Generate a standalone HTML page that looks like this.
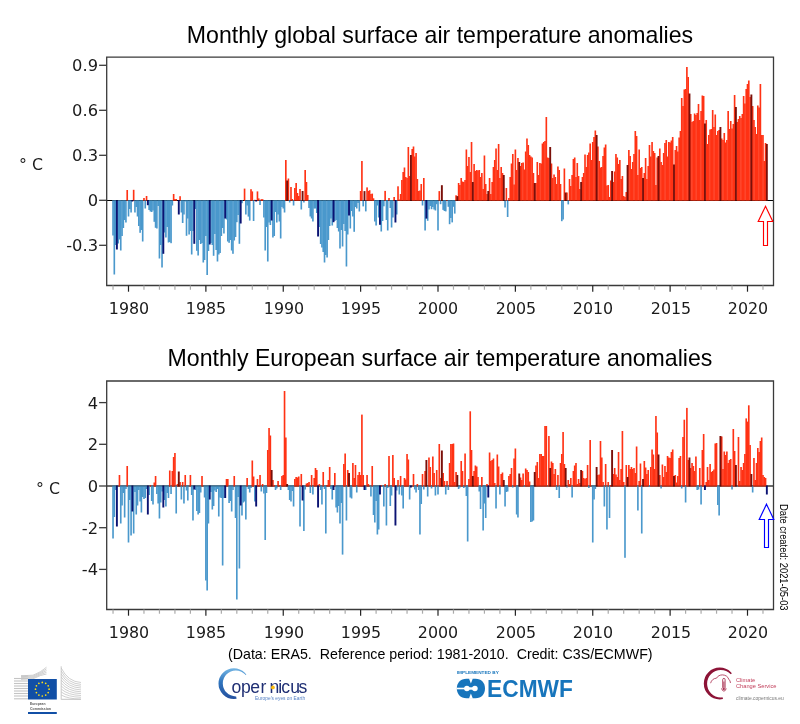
<!DOCTYPE html>
<html><head><meta charset="utf-8"><title>Monthly surface air temperature anomalies</title>
<style>
html,body{margin:0;padding:0;background:#fff;}
body{width:800px;height:724px;position:relative;overflow:hidden;font-family:"Liberation Sans",sans-serif;color:#111;}
svg{position:absolute;left:0;top:0;}
.title{position:absolute;left:0;width:880px;text-align:center;font-size:23.2px;line-height:26px;white-space:nowrap;color:#000;transform:scaleX(0.997);transform-origin:440px 0;}
.xl{position:absolute;width:60px;text-align:center;font-family:"DejaVu Sans","Liberation Sans",sans-serif;font-size:16.3px;line-height:20px;color:#1a1a1a;transform:scaleX(0.975);}
.yl{position:absolute;left:40px;width:58px;text-align:right;font-family:"DejaVu Sans","Liberation Sans",sans-serif;font-size:16.3px;line-height:20px;color:#1a1a1a;transform-origin:100% 0;}
.unit{position:absolute;font-family:"DejaVu Sans","Liberation Sans",sans-serif;font-size:16.3px;line-height:20px;color:#1a1a1a;white-space:pre;transform:scaleX(0.97);transform-origin:0 0;}
.foot{position:absolute;left:228px;top:646px;font-size:14.3px;line-height:16px;white-space:pre;color:#000;transform:scaleX(0.995);transform-origin:0 0;}
.date{position:absolute;left:788.3px;top:504.3px;font-size:10px;line-height:10px;white-space:nowrap;transform-origin:0 0;transform:rotate(90deg) scaleX(0.935);color:#000;}
.tiny{position:absolute;white-space:nowrap;}
</style></head><body>
<div class="title" style="top:22px">Monthly global surface air temperature anomalies</div>
<div class="title" style="top:345px">Monthly European surface air temperature anomalies</div>
<svg width="800" height="724" viewBox="0 0 800 724">
<line x1="106.5" y1="200.5" x2="773.5" y2="200.5" stroke="#000" stroke-width="1.2"/>
<line x1="106.5" y1="486.0" x2="773.5" y2="486.0" stroke="#000" stroke-width="1.2"/>
<g shape-rendering="auto">
<rect x="112.21" y="200.0" width="1.64" height="35.5" fill="#4a98cc"/>
<rect x="113.49" y="200.0" width="1.64" height="74.5" fill="#4a98cc"/>
<rect x="114.78" y="200.0" width="1.64" height="45.0" fill="#4a98cc"/>
<rect x="117.36" y="200.0" width="1.64" height="43.5" fill="#4a98cc"/>
<rect x="118.65" y="200.0" width="1.64" height="39.5" fill="#4a98cc"/>
<rect x="119.94" y="200.0" width="1.64" height="50.5" fill="#4a98cc"/>
<rect x="121.23" y="200.0" width="1.64" height="36.0" fill="#4a98cc"/>
<rect x="122.52" y="200.0" width="1.64" height="28.0" fill="#4a98cc"/>
<rect x="123.81" y="200.0" width="1.64" height="20.0" fill="#4a98cc"/>
<rect x="125.10" y="200.0" width="1.64" height="22.5" fill="#4a98cc"/>
<rect x="126.39" y="190.0" width="1.64" height="11.0" fill="#ff3214"/>
<rect x="127.68" y="200.0" width="1.64" height="16.5" fill="#4a98cc"/>
<rect x="128.97" y="200.0" width="1.64" height="9.0" fill="#4a98cc"/>
<rect x="130.26" y="200.0" width="1.64" height="12.5" fill="#4a98cc"/>
<rect x="132.84" y="189.8" width="1.64" height="11.2" fill="#ff3214"/>
<rect x="134.13" y="200.0" width="1.64" height="12.5" fill="#4a98cc"/>
<rect x="135.42" y="200.0" width="1.64" height="7.0" fill="#4a98cc"/>
<rect x="136.71" y="200.0" width="1.64" height="16.5" fill="#4a98cc"/>
<rect x="138.00" y="200.0" width="1.64" height="26.0" fill="#4a98cc"/>
<rect x="139.29" y="200.0" width="1.64" height="32.8" fill="#4a98cc"/>
<rect x="140.58" y="200.0" width="1.64" height="30.0" fill="#4a98cc"/>
<rect x="141.87" y="200.0" width="1.64" height="41.5" fill="#4a98cc"/>
<rect x="143.16" y="198.0" width="1.64" height="3.0" fill="#ff3214"/>
<rect x="144.44" y="200.0" width="1.64" height="8.5" fill="#4a98cc"/>
<rect x="145.73" y="196.0" width="1.64" height="5.0" fill="#ff3214"/>
<rect x="148.31" y="200.0" width="1.64" height="10.0" fill="#4a98cc"/>
<rect x="149.60" y="200.0" width="1.64" height="11.5" fill="#4a98cc"/>
<rect x="150.89" y="200.0" width="1.64" height="12.0" fill="#4a98cc"/>
<rect x="152.18" y="200.0" width="1.64" height="10.5" fill="#4a98cc"/>
<rect x="153.47" y="200.0" width="1.64" height="21.8" fill="#4a98cc"/>
<rect x="154.76" y="200.0" width="1.64" height="27.8" fill="#4a98cc"/>
<rect x="156.05" y="200.0" width="1.64" height="28.5" fill="#4a98cc"/>
<rect x="157.34" y="200.0" width="1.64" height="6.0" fill="#4a98cc"/>
<rect x="158.63" y="200.0" width="1.64" height="58.5" fill="#4a98cc"/>
<rect x="159.92" y="200.0" width="1.64" height="45.0" fill="#4a98cc"/>
<rect x="161.21" y="200.0" width="1.64" height="67.5" fill="#4a98cc"/>
<rect x="163.79" y="200.0" width="1.64" height="32.5" fill="#4a98cc"/>
<rect x="165.08" y="200.0" width="1.64" height="37.5" fill="#4a98cc"/>
<rect x="166.37" y="200.0" width="1.64" height="27.0" fill="#4a98cc"/>
<rect x="167.66" y="200.0" width="1.64" height="42.5" fill="#4a98cc"/>
<rect x="168.95" y="200.0" width="1.64" height="42.0" fill="#4a98cc"/>
<rect x="170.24" y="200.0" width="1.64" height="43.2" fill="#4a98cc"/>
<rect x="171.53" y="200.0" width="1.64" height="5.5" fill="#4a98cc"/>
<rect x="172.82" y="194.0" width="1.64" height="7.0" fill="#ff3214"/>
<rect x="174.11" y="199.0" width="1.64" height="2.0" fill="#ff3214"/>
<rect x="175.39" y="199.0" width="1.64" height="2.0" fill="#ff3214"/>
<rect x="179.26" y="196.2" width="1.64" height="4.8" fill="#ff3214"/>
<rect x="180.55" y="200.0" width="1.64" height="12.5" fill="#4a98cc"/>
<rect x="181.84" y="200.0" width="1.64" height="23.0" fill="#4a98cc"/>
<rect x="183.13" y="200.0" width="1.64" height="14.5" fill="#4a98cc"/>
<rect x="184.42" y="200.0" width="1.64" height="1.5" fill="#4a98cc"/>
<rect x="185.71" y="200.0" width="1.64" height="35.8" fill="#4a98cc"/>
<rect x="187.00" y="200.0" width="1.64" height="18.5" fill="#4a98cc"/>
<rect x="188.29" y="200.0" width="1.64" height="34.5" fill="#4a98cc"/>
<rect x="189.58" y="200.0" width="1.64" height="31.0" fill="#4a98cc"/>
<rect x="190.87" y="200.0" width="1.64" height="54.5" fill="#4a98cc"/>
<rect x="192.16" y="200.0" width="1.64" height="31.0" fill="#4a98cc"/>
<rect x="194.74" y="200.0" width="1.64" height="9.0" fill="#4a98cc"/>
<rect x="196.03" y="200.0" width="1.64" height="50.8" fill="#4a98cc"/>
<rect x="197.32" y="200.0" width="1.64" height="55.5" fill="#4a98cc"/>
<rect x="198.61" y="200.0" width="1.64" height="40.0" fill="#4a98cc"/>
<rect x="199.90" y="200.0" width="1.64" height="44.0" fill="#4a98cc"/>
<rect x="201.19" y="200.0" width="1.64" height="43.0" fill="#4a98cc"/>
<rect x="202.48" y="200.0" width="1.64" height="62.5" fill="#4a98cc"/>
<rect x="203.77" y="200.0" width="1.64" height="60.0" fill="#4a98cc"/>
<rect x="205.06" y="200.0" width="1.64" height="36.0" fill="#4a98cc"/>
<rect x="206.34" y="200.0" width="1.64" height="75.0" fill="#4a98cc"/>
<rect x="207.63" y="200.0" width="1.64" height="51.0" fill="#4a98cc"/>
<rect x="210.21" y="200.0" width="1.64" height="43.0" fill="#4a98cc"/>
<rect x="211.50" y="200.0" width="1.64" height="45.0" fill="#4a98cc"/>
<rect x="212.79" y="200.0" width="1.64" height="55.8" fill="#4a98cc"/>
<rect x="214.08" y="200.0" width="1.64" height="34.0" fill="#4a98cc"/>
<rect x="215.37" y="200.0" width="1.64" height="50.0" fill="#4a98cc"/>
<rect x="216.66" y="200.0" width="1.64" height="61.5" fill="#4a98cc"/>
<rect x="217.95" y="200.0" width="1.64" height="54.5" fill="#4a98cc"/>
<rect x="219.24" y="200.0" width="1.64" height="53.0" fill="#4a98cc"/>
<rect x="220.53" y="200.0" width="1.64" height="36.0" fill="#4a98cc"/>
<rect x="221.82" y="200.0" width="1.64" height="28.0" fill="#4a98cc"/>
<rect x="223.11" y="200.0" width="1.64" height="33.5" fill="#4a98cc"/>
<rect x="225.69" y="200.0" width="1.64" height="19.5" fill="#4a98cc"/>
<rect x="226.98" y="200.0" width="1.64" height="41.5" fill="#4a98cc"/>
<rect x="228.27" y="200.0" width="1.64" height="42.8" fill="#4a98cc"/>
<rect x="229.56" y="200.0" width="1.64" height="40.0" fill="#4a98cc"/>
<rect x="230.85" y="200.0" width="1.64" height="50.5" fill="#4a98cc"/>
<rect x="232.14" y="200.0" width="1.64" height="53.8" fill="#4a98cc"/>
<rect x="233.43" y="200.0" width="1.64" height="40.5" fill="#4a98cc"/>
<rect x="234.72" y="200.0" width="1.64" height="37.0" fill="#4a98cc"/>
<rect x="236.01" y="200.0" width="1.64" height="22.2" fill="#4a98cc"/>
<rect x="237.29" y="200.0" width="1.64" height="15.0" fill="#4a98cc"/>
<rect x="238.58" y="200.0" width="1.64" height="43.8" fill="#4a98cc"/>
<rect x="241.16" y="200.0" width="1.64" height="3.2" fill="#4a98cc"/>
<rect x="243.74" y="188.6" width="1.64" height="12.4" fill="#ff3214"/>
<rect x="245.03" y="200.0" width="1.64" height="14.5" fill="#4a98cc"/>
<rect x="246.32" y="200.0" width="1.64" height="5.5" fill="#4a98cc"/>
<rect x="247.61" y="200.0" width="1.64" height="16.6" fill="#4a98cc"/>
<rect x="248.90" y="200.0" width="1.64" height="20.6" fill="#4a98cc"/>
<rect x="250.19" y="189.2" width="1.64" height="11.8" fill="#ff3214"/>
<rect x="251.48" y="191.4" width="1.64" height="9.6" fill="#ff3214"/>
<rect x="252.77" y="200.0" width="1.64" height="21.0" fill="#4a98cc"/>
<rect x="254.06" y="199.8" width="1.64" height="1.2" fill="#ff3214"/>
<rect x="256.64" y="191.4" width="1.64" height="9.6" fill="#ff3214"/>
<rect x="257.93" y="198.4" width="1.64" height="2.6" fill="#ff3214"/>
<rect x="259.22" y="200.0" width="1.64" height="5.0" fill="#4a98cc"/>
<rect x="260.51" y="199.2" width="1.64" height="1.8" fill="#ff3214"/>
<rect x="261.80" y="199.2" width="1.64" height="1.8" fill="#ff3214"/>
<rect x="263.09" y="200.0" width="1.64" height="17.5" fill="#4a98cc"/>
<rect x="264.38" y="200.0" width="1.64" height="50.5" fill="#4a98cc"/>
<rect x="265.67" y="200.0" width="1.64" height="27.0" fill="#4a98cc"/>
<rect x="266.96" y="200.0" width="1.64" height="61.5" fill="#4a98cc"/>
<rect x="268.24" y="200.0" width="1.64" height="22.5" fill="#4a98cc"/>
<rect x="269.53" y="200.0" width="1.64" height="25.0" fill="#4a98cc"/>
<rect x="272.11" y="200.0" width="1.64" height="37.5" fill="#4a98cc"/>
<rect x="273.40" y="200.0" width="1.64" height="36.0" fill="#4a98cc"/>
<rect x="274.69" y="200.0" width="1.64" height="12.0" fill="#4a98cc"/>
<rect x="275.98" y="200.0" width="1.64" height="22.5" fill="#4a98cc"/>
<rect x="277.27" y="200.0" width="1.64" height="14.5" fill="#4a98cc"/>
<rect x="278.56" y="200.0" width="1.64" height="21.5" fill="#4a98cc"/>
<rect x="279.85" y="200.0" width="1.64" height="38.5" fill="#4a98cc"/>
<rect x="281.14" y="200.0" width="1.64" height="7.0" fill="#4a98cc"/>
<rect x="282.43" y="200.0" width="1.64" height="8.5" fill="#4a98cc"/>
<rect x="283.72" y="200.0" width="1.64" height="12.5" fill="#4a98cc"/>
<rect x="285.01" y="160.0" width="1.64" height="41.0" fill="#ff3214"/>
<rect x="287.59" y="178.5" width="1.64" height="22.5" fill="#ff3214"/>
<rect x="288.88" y="200.0" width="1.64" height="2.5" fill="#4a98cc"/>
<rect x="290.17" y="187.0" width="1.64" height="14.0" fill="#ff3214"/>
<rect x="291.46" y="199.0" width="1.64" height="2.0" fill="#ff3214"/>
<rect x="292.75" y="200.0" width="1.64" height="5.5" fill="#4a98cc"/>
<rect x="294.04" y="188.0" width="1.64" height="13.0" fill="#ff3214"/>
<rect x="295.33" y="183.0" width="1.64" height="18.0" fill="#ff3214"/>
<rect x="296.62" y="193.0" width="1.64" height="8.0" fill="#ff3214"/>
<rect x="297.91" y="196.0" width="1.64" height="5.0" fill="#ff3214"/>
<rect x="299.19" y="189.0" width="1.64" height="12.0" fill="#ff3214"/>
<rect x="300.48" y="200.0" width="1.64" height="9.5" fill="#4a98cc"/>
<rect x="303.06" y="200.0" width="1.64" height="2.5" fill="#4a98cc"/>
<rect x="304.35" y="170.0" width="1.64" height="31.0" fill="#ff3214"/>
<rect x="305.64" y="182.0" width="1.64" height="19.0" fill="#ff3214"/>
<rect x="306.93" y="195.0" width="1.64" height="6.0" fill="#ff3214"/>
<rect x="308.22" y="200.0" width="1.64" height="8.0" fill="#4a98cc"/>
<rect x="309.51" y="200.0" width="1.64" height="16.5" fill="#4a98cc"/>
<rect x="310.80" y="200.0" width="1.64" height="18.5" fill="#4a98cc"/>
<rect x="312.09" y="200.0" width="1.64" height="21.5" fill="#4a98cc"/>
<rect x="313.38" y="200.0" width="1.64" height="8.5" fill="#4a98cc"/>
<rect x="314.67" y="200.0" width="1.64" height="8.5" fill="#4a98cc"/>
<rect x="315.96" y="200.0" width="1.64" height="13.0" fill="#4a98cc"/>
<rect x="318.54" y="200.0" width="1.64" height="27.0" fill="#4a98cc"/>
<rect x="319.83" y="200.0" width="1.64" height="44.0" fill="#4a98cc"/>
<rect x="321.12" y="200.0" width="1.64" height="47.5" fill="#4a98cc"/>
<rect x="322.41" y="200.0" width="1.64" height="52.0" fill="#4a98cc"/>
<rect x="323.70" y="200.0" width="1.64" height="62.5" fill="#4a98cc"/>
<rect x="324.99" y="200.0" width="1.64" height="55.0" fill="#4a98cc"/>
<rect x="326.28" y="200.0" width="1.64" height="57.5" fill="#4a98cc"/>
<rect x="327.57" y="200.0" width="1.64" height="40.0" fill="#4a98cc"/>
<rect x="328.86" y="200.0" width="1.64" height="26.0" fill="#4a98cc"/>
<rect x="330.14" y="200.0" width="1.64" height="18.5" fill="#4a98cc"/>
<rect x="331.43" y="200.0" width="1.64" height="25.5" fill="#4a98cc"/>
<rect x="334.01" y="200.0" width="1.64" height="21.0" fill="#4a98cc"/>
<rect x="335.30" y="200.0" width="1.64" height="20.0" fill="#4a98cc"/>
<rect x="336.59" y="200.0" width="1.64" height="28.0" fill="#4a98cc"/>
<rect x="337.88" y="200.0" width="1.64" height="31.5" fill="#4a98cc"/>
<rect x="339.17" y="200.0" width="1.64" height="48.5" fill="#4a98cc"/>
<rect x="340.46" y="200.0" width="1.64" height="30.0" fill="#4a98cc"/>
<rect x="341.75" y="200.0" width="1.64" height="46.5" fill="#4a98cc"/>
<rect x="343.04" y="200.0" width="1.64" height="24.0" fill="#4a98cc"/>
<rect x="344.33" y="200.0" width="1.64" height="31.0" fill="#4a98cc"/>
<rect x="345.62" y="200.0" width="1.64" height="66.5" fill="#4a98cc"/>
<rect x="346.91" y="200.0" width="1.64" height="34.5" fill="#4a98cc"/>
<rect x="349.49" y="200.0" width="1.64" height="28.5" fill="#4a98cc"/>
<rect x="350.78" y="200.0" width="1.64" height="11.0" fill="#4a98cc"/>
<rect x="352.07" y="200.0" width="1.64" height="16.5" fill="#4a98cc"/>
<rect x="353.36" y="200.0" width="1.64" height="31.8" fill="#4a98cc"/>
<rect x="354.65" y="200.0" width="1.64" height="7.0" fill="#4a98cc"/>
<rect x="355.94" y="200.0" width="1.64" height="8.5" fill="#4a98cc"/>
<rect x="357.23" y="200.0" width="1.64" height="3.0" fill="#4a98cc"/>
<rect x="358.52" y="200.0" width="1.64" height="11.5" fill="#4a98cc"/>
<rect x="359.81" y="191.0" width="1.64" height="10.0" fill="#ff3214"/>
<rect x="361.09" y="161.0" width="1.64" height="40.0" fill="#ff3214"/>
<rect x="362.38" y="200.0" width="1.64" height="6.4" fill="#4a98cc"/>
<rect x="364.96" y="200.0" width="1.64" height="11.4" fill="#4a98cc"/>
<rect x="366.25" y="187.4" width="1.64" height="13.6" fill="#ff3214"/>
<rect x="367.54" y="191.0" width="1.64" height="10.0" fill="#ff3214"/>
<rect x="368.83" y="190.2" width="1.64" height="10.8" fill="#ff3214"/>
<rect x="370.12" y="194.0" width="1.64" height="7.0" fill="#ff3214"/>
<rect x="371.41" y="193.6" width="1.64" height="7.4" fill="#ff3214"/>
<rect x="372.70" y="198.3" width="1.64" height="2.7" fill="#ff3214"/>
<rect x="373.99" y="200.0" width="1.64" height="21.5" fill="#4a98cc"/>
<rect x="375.28" y="200.0" width="1.64" height="25.5" fill="#4a98cc"/>
<rect x="376.57" y="200.0" width="1.64" height="5.5" fill="#4a98cc"/>
<rect x="377.86" y="200.0" width="1.64" height="17.5" fill="#4a98cc"/>
<rect x="380.44" y="200.0" width="1.64" height="31.5" fill="#4a98cc"/>
<rect x="381.73" y="200.0" width="1.64" height="21.0" fill="#4a98cc"/>
<rect x="383.02" y="200.0" width="1.64" height="6.3" fill="#4a98cc"/>
<rect x="384.31" y="190.9" width="1.64" height="10.1" fill="#ff3214"/>
<rect x="385.60" y="200.0" width="1.64" height="20.0" fill="#4a98cc"/>
<rect x="386.89" y="200.0" width="1.64" height="30.5" fill="#4a98cc"/>
<rect x="388.18" y="198.0" width="1.64" height="3.0" fill="#ff3214"/>
<rect x="389.47" y="200.0" width="1.64" height="8.0" fill="#4a98cc"/>
<rect x="390.76" y="200.0" width="1.64" height="27.5" fill="#4a98cc"/>
<rect x="392.04" y="200.0" width="1.64" height="17.5" fill="#4a98cc"/>
<rect x="393.33" y="197.0" width="1.64" height="4.0" fill="#ff3214"/>
<rect x="395.91" y="200.0" width="1.64" height="14.5" fill="#4a98cc"/>
<rect x="397.20" y="186.3" width="1.64" height="14.7" fill="#ff3214"/>
<rect x="398.49" y="199.5" width="1.64" height="1.5" fill="#ff3214"/>
<rect x="399.78" y="194.0" width="1.64" height="7.0" fill="#ff3214"/>
<rect x="401.07" y="180.0" width="1.64" height="21.0" fill="#ff3214"/>
<rect x="402.36" y="172.0" width="1.64" height="29.0" fill="#ff3214"/>
<rect x="403.65" y="167.5" width="1.64" height="33.5" fill="#ff3214"/>
<rect x="404.94" y="177.0" width="1.64" height="24.0" fill="#ff3214"/>
<rect x="406.23" y="178.0" width="1.64" height="23.0" fill="#ff3214"/>
<rect x="407.52" y="147.0" width="1.64" height="54.0" fill="#ff3214"/>
<rect x="408.81" y="176.0" width="1.64" height="25.0" fill="#ff3214"/>
<rect x="411.39" y="149.0" width="1.64" height="52.0" fill="#ff3214"/>
<rect x="412.68" y="146.5" width="1.64" height="54.5" fill="#ff3214"/>
<rect x="413.97" y="156.5" width="1.64" height="44.5" fill="#ff3214"/>
<rect x="415.26" y="153.0" width="1.64" height="48.0" fill="#ff3214"/>
<rect x="416.55" y="179.0" width="1.64" height="22.0" fill="#ff3214"/>
<rect x="417.84" y="191.0" width="1.64" height="10.0" fill="#ff3214"/>
<rect x="419.13" y="190.5" width="1.64" height="10.5" fill="#ff3214"/>
<rect x="420.42" y="184.0" width="1.64" height="17.0" fill="#ff3214"/>
<rect x="421.71" y="200.0" width="1.64" height="5.5" fill="#4a98cc"/>
<rect x="422.99" y="178.0" width="1.64" height="23.0" fill="#ff3214"/>
<rect x="424.28" y="200.0" width="1.64" height="30.5" fill="#4a98cc"/>
<rect x="426.86" y="200.0" width="1.64" height="20.8" fill="#4a98cc"/>
<rect x="428.15" y="200.0" width="1.64" height="9.5" fill="#4a98cc"/>
<rect x="429.44" y="200.0" width="1.64" height="6.0" fill="#4a98cc"/>
<rect x="430.73" y="200.0" width="1.64" height="9.2" fill="#4a98cc"/>
<rect x="432.02" y="200.0" width="1.64" height="7.0" fill="#4a98cc"/>
<rect x="433.31" y="200.0" width="1.64" height="9.5" fill="#4a98cc"/>
<rect x="434.60" y="200.0" width="1.64" height="10.5" fill="#4a98cc"/>
<rect x="435.89" y="200.0" width="1.64" height="4.2" fill="#4a98cc"/>
<rect x="437.18" y="200.0" width="1.64" height="30.5" fill="#4a98cc"/>
<rect x="438.47" y="191.1" width="1.64" height="9.9" fill="#ff3214"/>
<rect x="439.76" y="200.0" width="1.64" height="4.2" fill="#4a98cc"/>
<rect x="442.34" y="200.0" width="1.64" height="9.9" fill="#4a98cc"/>
<rect x="443.63" y="200.0" width="1.64" height="11.0" fill="#4a98cc"/>
<rect x="444.92" y="200.0" width="1.64" height="11.4" fill="#4a98cc"/>
<rect x="446.21" y="200.0" width="1.64" height="1.0" fill="#ff3214"/>
<rect x="447.50" y="200.0" width="1.64" height="6.8" fill="#4a98cc"/>
<rect x="448.79" y="200.0" width="1.64" height="24.2" fill="#4a98cc"/>
<rect x="450.08" y="200.0" width="1.64" height="18.0" fill="#4a98cc"/>
<rect x="451.37" y="200.0" width="1.64" height="22.4" fill="#4a98cc"/>
<rect x="452.66" y="200.0" width="1.64" height="6.8" fill="#4a98cc"/>
<rect x="453.94" y="200.0" width="1.64" height="13.6" fill="#4a98cc"/>
<rect x="455.23" y="195.3" width="1.64" height="5.7" fill="#ff3214"/>
<rect x="457.81" y="183.0" width="1.64" height="18.0" fill="#ff3214"/>
<rect x="459.10" y="185.0" width="1.64" height="16.0" fill="#ff3214"/>
<rect x="460.39" y="178.0" width="1.64" height="23.0" fill="#ff3214"/>
<rect x="461.68" y="181.5" width="1.64" height="19.5" fill="#ff3214"/>
<rect x="462.97" y="182.0" width="1.64" height="19.0" fill="#ff3214"/>
<rect x="464.26" y="180.0" width="1.64" height="21.0" fill="#ff3214"/>
<rect x="465.55" y="149.5" width="1.64" height="51.5" fill="#ff3214"/>
<rect x="466.84" y="166.0" width="1.64" height="35.0" fill="#ff3214"/>
<rect x="468.13" y="157.0" width="1.64" height="44.0" fill="#ff3214"/>
<rect x="469.42" y="172.0" width="1.64" height="29.0" fill="#ff3214"/>
<rect x="470.71" y="142.0" width="1.64" height="59.0" fill="#ff3214"/>
<rect x="473.29" y="164.0" width="1.64" height="37.0" fill="#ff3214"/>
<rect x="474.58" y="171.0" width="1.64" height="30.0" fill="#ff3214"/>
<rect x="475.87" y="170.0" width="1.64" height="31.0" fill="#ff3214"/>
<rect x="477.16" y="170.5" width="1.64" height="30.5" fill="#ff3214"/>
<rect x="478.45" y="170.0" width="1.64" height="31.0" fill="#ff3214"/>
<rect x="479.74" y="177.0" width="1.64" height="24.0" fill="#ff3214"/>
<rect x="481.03" y="173.0" width="1.64" height="28.0" fill="#ff3214"/>
<rect x="482.32" y="189.0" width="1.64" height="12.0" fill="#ff3214"/>
<rect x="483.61" y="155.5" width="1.64" height="45.5" fill="#ff3214"/>
<rect x="484.89" y="184.0" width="1.64" height="17.0" fill="#ff3214"/>
<rect x="486.18" y="194.0" width="1.64" height="7.0" fill="#ff3214"/>
<rect x="488.76" y="178.0" width="1.64" height="23.0" fill="#ff3214"/>
<rect x="490.05" y="194.0" width="1.64" height="7.0" fill="#ff3214"/>
<rect x="491.34" y="182.0" width="1.64" height="19.0" fill="#ff3214"/>
<rect x="492.63" y="167.0" width="1.64" height="34.0" fill="#ff3214"/>
<rect x="493.92" y="160.0" width="1.64" height="41.0" fill="#ff3214"/>
<rect x="495.21" y="148.5" width="1.64" height="52.5" fill="#ff3214"/>
<rect x="496.50" y="170.0" width="1.64" height="31.0" fill="#ff3214"/>
<rect x="497.79" y="144.0" width="1.64" height="57.0" fill="#ff3214"/>
<rect x="499.08" y="178.0" width="1.64" height="23.0" fill="#ff3214"/>
<rect x="500.37" y="167.0" width="1.64" height="34.0" fill="#ff3214"/>
<rect x="501.66" y="173.0" width="1.64" height="28.0" fill="#ff3214"/>
<rect x="504.24" y="200.0" width="1.64" height="7.5" fill="#4a98cc"/>
<rect x="505.53" y="188.0" width="1.64" height="13.0" fill="#ff3214"/>
<rect x="506.82" y="200.0" width="1.64" height="17.0" fill="#4a98cc"/>
<rect x="508.11" y="198.0" width="1.64" height="3.0" fill="#ff3214"/>
<rect x="509.40" y="177.0" width="1.64" height="24.0" fill="#ff3214"/>
<rect x="510.69" y="163.5" width="1.64" height="37.5" fill="#ff3214"/>
<rect x="511.98" y="154.0" width="1.64" height="47.0" fill="#ff3214"/>
<rect x="513.27" y="184.5" width="1.64" height="16.5" fill="#ff3214"/>
<rect x="514.56" y="149.5" width="1.64" height="51.5" fill="#ff3214"/>
<rect x="515.84" y="170.0" width="1.64" height="31.0" fill="#ff3214"/>
<rect x="517.13" y="158.0" width="1.64" height="43.0" fill="#ff3214"/>
<rect x="519.71" y="166.0" width="1.64" height="35.0" fill="#ff3214"/>
<rect x="521.00" y="163.0" width="1.64" height="38.0" fill="#ff3214"/>
<rect x="522.29" y="162.5" width="1.64" height="38.5" fill="#ff3214"/>
<rect x="523.58" y="169.5" width="1.64" height="31.5" fill="#ff3214"/>
<rect x="524.87" y="151.5" width="1.64" height="49.5" fill="#ff3214"/>
<rect x="526.16" y="138.5" width="1.64" height="62.5" fill="#ff3214"/>
<rect x="527.45" y="145.0" width="1.64" height="56.0" fill="#ff3214"/>
<rect x="528.74" y="155.0" width="1.64" height="46.0" fill="#ff3214"/>
<rect x="530.03" y="156.5" width="1.64" height="44.5" fill="#ff3214"/>
<rect x="531.32" y="157.5" width="1.64" height="43.5" fill="#ff3214"/>
<rect x="532.61" y="173.0" width="1.64" height="28.0" fill="#ff3214"/>
<rect x="535.19" y="183.0" width="1.64" height="18.0" fill="#ff3214"/>
<rect x="536.48" y="162.0" width="1.64" height="39.0" fill="#ff3214"/>
<rect x="537.77" y="175.0" width="1.64" height="26.0" fill="#ff3214"/>
<rect x="539.06" y="163.0" width="1.64" height="38.0" fill="#ff3214"/>
<rect x="540.35" y="163.5" width="1.64" height="37.5" fill="#ff3214"/>
<rect x="541.64" y="143.5" width="1.64" height="57.5" fill="#ff3214"/>
<rect x="542.93" y="142.0" width="1.64" height="59.0" fill="#ff3214"/>
<rect x="544.22" y="141.0" width="1.64" height="60.0" fill="#ff3214"/>
<rect x="545.51" y="117.0" width="1.64" height="84.0" fill="#ff3214"/>
<rect x="546.79" y="157.5" width="1.64" height="43.5" fill="#ff3214"/>
<rect x="548.08" y="158.0" width="1.64" height="43.0" fill="#ff3214"/>
<rect x="550.66" y="163.5" width="1.64" height="37.5" fill="#ff3214"/>
<rect x="551.95" y="178.0" width="1.64" height="23.0" fill="#ff3214"/>
<rect x="553.24" y="174.5" width="1.64" height="26.5" fill="#ff3214"/>
<rect x="554.53" y="177.0" width="1.64" height="24.0" fill="#ff3214"/>
<rect x="555.82" y="184.0" width="1.64" height="17.0" fill="#ff3214"/>
<rect x="557.11" y="166.5" width="1.64" height="34.5" fill="#ff3214"/>
<rect x="558.40" y="170.0" width="1.64" height="31.0" fill="#ff3214"/>
<rect x="559.69" y="184.0" width="1.64" height="17.0" fill="#ff3214"/>
<rect x="560.98" y="200.0" width="1.64" height="21.2" fill="#4a98cc"/>
<rect x="562.27" y="200.0" width="1.64" height="19.5" fill="#4a98cc"/>
<rect x="563.56" y="168.5" width="1.64" height="32.5" fill="#ff3214"/>
<rect x="566.14" y="192.5" width="1.64" height="8.5" fill="#ff3214"/>
<rect x="567.43" y="200.0" width="1.64" height="4.4" fill="#4a98cc"/>
<rect x="568.72" y="179.0" width="1.64" height="22.0" fill="#ff3214"/>
<rect x="570.01" y="186.0" width="1.64" height="15.0" fill="#ff3214"/>
<rect x="571.30" y="175.0" width="1.64" height="26.0" fill="#ff3214"/>
<rect x="572.59" y="159.0" width="1.64" height="42.0" fill="#ff3214"/>
<rect x="573.88" y="157.5" width="1.64" height="43.5" fill="#ff3214"/>
<rect x="575.17" y="177.0" width="1.64" height="24.0" fill="#ff3214"/>
<rect x="576.46" y="163.0" width="1.64" height="38.0" fill="#ff3214"/>
<rect x="577.74" y="176.0" width="1.64" height="25.0" fill="#ff3214"/>
<rect x="579.03" y="189.0" width="1.64" height="12.0" fill="#ff3214"/>
<rect x="581.61" y="177.0" width="1.64" height="24.0" fill="#ff3214"/>
<rect x="582.90" y="173.0" width="1.64" height="28.0" fill="#ff3214"/>
<rect x="584.19" y="154.5" width="1.64" height="46.5" fill="#ff3214"/>
<rect x="585.48" y="167.0" width="1.64" height="34.0" fill="#ff3214"/>
<rect x="586.77" y="155.0" width="1.64" height="46.0" fill="#ff3214"/>
<rect x="588.06" y="152.5" width="1.64" height="48.5" fill="#ff3214"/>
<rect x="589.35" y="143.5" width="1.64" height="57.5" fill="#ff3214"/>
<rect x="590.64" y="160.0" width="1.64" height="41.0" fill="#ff3214"/>
<rect x="591.93" y="142.0" width="1.64" height="59.0" fill="#ff3214"/>
<rect x="593.22" y="137.0" width="1.64" height="64.0" fill="#ff3214"/>
<rect x="594.51" y="130.5" width="1.64" height="70.5" fill="#ff3214"/>
<rect x="597.09" y="146.5" width="1.64" height="54.5" fill="#ff3214"/>
<rect x="598.38" y="161.0" width="1.64" height="40.0" fill="#ff3214"/>
<rect x="599.67" y="167.5" width="1.64" height="33.5" fill="#ff3214"/>
<rect x="600.96" y="167.0" width="1.64" height="34.0" fill="#ff3214"/>
<rect x="602.25" y="156.0" width="1.64" height="45.0" fill="#ff3214"/>
<rect x="603.54" y="147.5" width="1.64" height="53.5" fill="#ff3214"/>
<rect x="604.83" y="144.5" width="1.64" height="56.5" fill="#ff3214"/>
<rect x="606.12" y="185.5" width="1.64" height="15.5" fill="#ff3214"/>
<rect x="607.41" y="185.0" width="1.64" height="16.0" fill="#ff3214"/>
<rect x="608.69" y="197.0" width="1.64" height="4.0" fill="#ff3214"/>
<rect x="609.98" y="180.5" width="1.64" height="20.5" fill="#ff3214"/>
<rect x="612.56" y="182.0" width="1.64" height="19.0" fill="#ff3214"/>
<rect x="613.85" y="171.5" width="1.64" height="29.5" fill="#ff3214"/>
<rect x="615.14" y="154.0" width="1.64" height="47.0" fill="#ff3214"/>
<rect x="616.43" y="157.5" width="1.64" height="43.5" fill="#ff3214"/>
<rect x="617.72" y="164.0" width="1.64" height="37.0" fill="#ff3214"/>
<rect x="619.01" y="160.0" width="1.64" height="41.0" fill="#ff3214"/>
<rect x="620.30" y="179.0" width="1.64" height="22.0" fill="#ff3214"/>
<rect x="621.59" y="176.0" width="1.64" height="25.0" fill="#ff3214"/>
<rect x="622.88" y="196.0" width="1.64" height="5.0" fill="#ff3214"/>
<rect x="624.17" y="197.0" width="1.64" height="4.0" fill="#ff3214"/>
<rect x="625.46" y="192.0" width="1.64" height="9.0" fill="#ff3214"/>
<rect x="628.04" y="150.0" width="1.64" height="51.0" fill="#ff3214"/>
<rect x="629.33" y="156.0" width="1.64" height="45.0" fill="#ff3214"/>
<rect x="630.62" y="169.0" width="1.64" height="32.0" fill="#ff3214"/>
<rect x="631.91" y="162.0" width="1.64" height="39.0" fill="#ff3214"/>
<rect x="633.20" y="154.0" width="1.64" height="47.0" fill="#ff3214"/>
<rect x="634.49" y="131.0" width="1.64" height="70.0" fill="#ff3214"/>
<rect x="635.78" y="136.0" width="1.64" height="65.0" fill="#ff3214"/>
<rect x="637.07" y="175.0" width="1.64" height="26.0" fill="#ff3214"/>
<rect x="638.36" y="149.5" width="1.64" height="51.5" fill="#ff3214"/>
<rect x="639.64" y="168.0" width="1.64" height="33.0" fill="#ff3214"/>
<rect x="640.93" y="167.0" width="1.64" height="34.0" fill="#ff3214"/>
<rect x="643.51" y="173.0" width="1.64" height="28.0" fill="#ff3214"/>
<rect x="644.80" y="158.0" width="1.64" height="43.0" fill="#ff3214"/>
<rect x="646.09" y="179.0" width="1.64" height="22.0" fill="#ff3214"/>
<rect x="647.38" y="166.0" width="1.64" height="35.0" fill="#ff3214"/>
<rect x="648.67" y="145.0" width="1.64" height="56.0" fill="#ff3214"/>
<rect x="649.96" y="156.5" width="1.64" height="44.5" fill="#ff3214"/>
<rect x="651.25" y="142.0" width="1.64" height="59.0" fill="#ff3214"/>
<rect x="652.54" y="151.0" width="1.64" height="50.0" fill="#ff3214"/>
<rect x="653.83" y="153.0" width="1.64" height="48.0" fill="#ff3214"/>
<rect x="655.12" y="185.0" width="1.64" height="16.0" fill="#ff3214"/>
<rect x="656.41" y="157.5" width="1.64" height="43.5" fill="#ff3214"/>
<rect x="658.99" y="148.5" width="1.64" height="52.5" fill="#ff3214"/>
<rect x="660.28" y="162.0" width="1.64" height="39.0" fill="#ff3214"/>
<rect x="661.57" y="165.0" width="1.64" height="36.0" fill="#ff3214"/>
<rect x="662.86" y="153.0" width="1.64" height="48.0" fill="#ff3214"/>
<rect x="664.15" y="143.0" width="1.64" height="58.0" fill="#ff3214"/>
<rect x="665.44" y="140.0" width="1.64" height="61.0" fill="#ff3214"/>
<rect x="666.73" y="156.5" width="1.64" height="44.5" fill="#ff3214"/>
<rect x="668.02" y="142.0" width="1.64" height="59.0" fill="#ff3214"/>
<rect x="669.31" y="142.5" width="1.64" height="58.5" fill="#ff3214"/>
<rect x="670.59" y="140.5" width="1.64" height="60.5" fill="#ff3214"/>
<rect x="671.88" y="137.0" width="1.64" height="64.0" fill="#ff3214"/>
<rect x="674.46" y="150.0" width="1.64" height="51.0" fill="#ff3214"/>
<rect x="675.75" y="146.0" width="1.64" height="55.0" fill="#ff3214"/>
<rect x="677.04" y="151.5" width="1.64" height="49.5" fill="#ff3214"/>
<rect x="678.33" y="137.5" width="1.64" height="63.5" fill="#ff3214"/>
<rect x="679.62" y="131.0" width="1.64" height="70.0" fill="#ff3214"/>
<rect x="680.91" y="98.0" width="1.64" height="103.0" fill="#ff3214"/>
<rect x="682.20" y="106.0" width="1.64" height="95.0" fill="#ff3214"/>
<rect x="683.49" y="89.5" width="1.64" height="111.5" fill="#ff3214"/>
<rect x="684.78" y="89.0" width="1.64" height="112.0" fill="#ff3214"/>
<rect x="686.07" y="67.0" width="1.64" height="134.0" fill="#ff3214"/>
<rect x="687.36" y="77.0" width="1.64" height="124.0" fill="#ff3214"/>
<rect x="689.94" y="114.0" width="1.64" height="87.0" fill="#ff3214"/>
<rect x="691.23" y="122.0" width="1.64" height="79.0" fill="#ff3214"/>
<rect x="692.52" y="121.0" width="1.64" height="80.0" fill="#ff3214"/>
<rect x="693.81" y="113.5" width="1.64" height="87.5" fill="#ff3214"/>
<rect x="695.10" y="115.0" width="1.64" height="86.0" fill="#ff3214"/>
<rect x="696.39" y="113.0" width="1.64" height="88.0" fill="#ff3214"/>
<rect x="697.68" y="104.0" width="1.64" height="97.0" fill="#ff3214"/>
<rect x="698.97" y="120.0" width="1.64" height="81.0" fill="#ff3214"/>
<rect x="700.26" y="111.0" width="1.64" height="90.0" fill="#ff3214"/>
<rect x="701.54" y="95.5" width="1.64" height="105.5" fill="#ff3214"/>
<rect x="702.83" y="96.0" width="1.64" height="105.0" fill="#ff3214"/>
<rect x="705.41" y="120.0" width="1.64" height="81.0" fill="#ff3214"/>
<rect x="706.70" y="144.0" width="1.64" height="57.0" fill="#ff3214"/>
<rect x="707.99" y="135.0" width="1.64" height="66.0" fill="#ff3214"/>
<rect x="709.28" y="129.5" width="1.64" height="71.5" fill="#ff3214"/>
<rect x="710.57" y="129.0" width="1.64" height="72.0" fill="#ff3214"/>
<rect x="711.86" y="110.0" width="1.64" height="91.0" fill="#ff3214"/>
<rect x="713.15" y="127.0" width="1.64" height="74.0" fill="#ff3214"/>
<rect x="714.44" y="114.5" width="1.64" height="86.5" fill="#ff3214"/>
<rect x="715.73" y="135.0" width="1.64" height="66.0" fill="#ff3214"/>
<rect x="717.02" y="131.0" width="1.64" height="70.0" fill="#ff3214"/>
<rect x="718.31" y="130.0" width="1.64" height="71.0" fill="#ff3214"/>
<rect x="720.89" y="138.5" width="1.64" height="62.5" fill="#ff3214"/>
<rect x="722.18" y="140.0" width="1.64" height="61.0" fill="#ff3214"/>
<rect x="723.47" y="133.0" width="1.64" height="68.0" fill="#ff3214"/>
<rect x="724.76" y="142.5" width="1.64" height="58.5" fill="#ff3214"/>
<rect x="726.05" y="140.0" width="1.64" height="61.0" fill="#ff3214"/>
<rect x="727.34" y="111.0" width="1.64" height="90.0" fill="#ff3214"/>
<rect x="728.63" y="129.0" width="1.64" height="72.0" fill="#ff3214"/>
<rect x="729.92" y="121.0" width="1.64" height="80.0" fill="#ff3214"/>
<rect x="731.21" y="128.5" width="1.64" height="72.5" fill="#ff3214"/>
<rect x="732.49" y="124.0" width="1.64" height="77.0" fill="#ff3214"/>
<rect x="733.78" y="95.0" width="1.64" height="106.0" fill="#ff3214"/>
<rect x="736.36" y="122.0" width="1.64" height="79.0" fill="#ff3214"/>
<rect x="737.65" y="119.0" width="1.64" height="82.0" fill="#ff3214"/>
<rect x="738.94" y="116.0" width="1.64" height="85.0" fill="#ff3214"/>
<rect x="740.23" y="118.0" width="1.64" height="83.0" fill="#ff3214"/>
<rect x="741.52" y="114.0" width="1.64" height="87.0" fill="#ff3214"/>
<rect x="742.81" y="96.0" width="1.64" height="105.0" fill="#ff3214"/>
<rect x="744.10" y="103.5" width="1.64" height="97.5" fill="#ff3214"/>
<rect x="745.39" y="89.0" width="1.64" height="112.0" fill="#ff3214"/>
<rect x="746.68" y="84.0" width="1.64" height="117.0" fill="#ff3214"/>
<rect x="747.97" y="80.5" width="1.64" height="120.5" fill="#ff3214"/>
<rect x="749.26" y="97.0" width="1.64" height="104.0" fill="#ff3214"/>
<rect x="751.84" y="106.0" width="1.64" height="95.0" fill="#ff3214"/>
<rect x="753.13" y="120.0" width="1.64" height="81.0" fill="#ff3214"/>
<rect x="754.42" y="127.0" width="1.64" height="74.0" fill="#ff3214"/>
<rect x="755.71" y="134.0" width="1.64" height="67.0" fill="#ff3214"/>
<rect x="757.00" y="105.5" width="1.64" height="95.5" fill="#ff3214"/>
<rect x="758.29" y="107.5" width="1.64" height="93.5" fill="#ff3214"/>
<rect x="759.58" y="84.0" width="1.64" height="117.0" fill="#ff3214"/>
<rect x="760.87" y="135.0" width="1.64" height="66.0" fill="#ff3214"/>
<rect x="762.16" y="135.0" width="1.64" height="66.0" fill="#ff3214"/>
<rect x="763.44" y="161.0" width="1.64" height="40.0" fill="#ff3214"/>
<rect x="764.73" y="143.0" width="1.64" height="58.0" fill="#ff3214"/>
<rect x="115.94" y="200.0" width="1.90" height="49.5" fill="#0b1373"/>
<rect x="131.42" y="200.0" width="1.90" height="1.5" fill="#0b1373"/>
<rect x="146.89" y="200.0" width="1.90" height="5.2" fill="#0b1373"/>
<rect x="162.37" y="200.0" width="1.90" height="53.8" fill="#0b1373"/>
<rect x="177.84" y="200.0" width="1.90" height="14.5" fill="#0b1373"/>
<rect x="193.32" y="200.0" width="1.90" height="43.8" fill="#0b1373"/>
<rect x="208.79" y="200.0" width="1.90" height="44.5" fill="#0b1373"/>
<rect x="224.27" y="200.0" width="1.90" height="18.5" fill="#0b1373"/>
<rect x="239.74" y="200.0" width="1.90" height="23.5" fill="#0b1373"/>
<rect x="255.22" y="200.0" width="1.90" height="1.5" fill="#0b1373"/>
<rect x="270.69" y="200.0" width="1.90" height="20.5" fill="#0b1373"/>
<rect x="286.17" y="180.5" width="1.90" height="20.5" fill="#7a100a"/>
<rect x="301.64" y="191.0" width="1.90" height="10.0" fill="#7a100a"/>
<rect x="317.12" y="200.0" width="1.90" height="36.5" fill="#0b1373"/>
<rect x="332.59" y="200.0" width="1.90" height="22.2" fill="#0b1373"/>
<rect x="348.07" y="200.0" width="1.90" height="15.5" fill="#0b1373"/>
<rect x="363.54" y="191.1" width="1.90" height="9.9" fill="#7a100a"/>
<rect x="379.02" y="200.0" width="1.90" height="24.8" fill="#0b1373"/>
<rect x="394.49" y="200.0" width="1.90" height="22.5" fill="#0b1373"/>
<rect x="409.97" y="155.0" width="1.90" height="46.0" fill="#7a100a"/>
<rect x="425.44" y="200.0" width="1.90" height="18.6" fill="#0b1373"/>
<rect x="440.92" y="185.2" width="1.90" height="15.8" fill="#7a100a"/>
<rect x="456.39" y="196.1" width="1.90" height="4.9" fill="#7a100a"/>
<rect x="471.87" y="182.0" width="1.90" height="19.0" fill="#7a100a"/>
<rect x="487.34" y="191.0" width="1.90" height="10.0" fill="#7a100a"/>
<rect x="502.82" y="175.0" width="1.90" height="26.0" fill="#7a100a"/>
<rect x="518.29" y="162.0" width="1.90" height="39.0" fill="#7a100a"/>
<rect x="533.77" y="183.0" width="1.90" height="18.0" fill="#7a100a"/>
<rect x="549.24" y="147.0" width="1.90" height="54.0" fill="#7a100a"/>
<rect x="564.72" y="192.5" width="1.90" height="8.5" fill="#7a100a"/>
<rect x="580.19" y="182.0" width="1.90" height="19.0" fill="#7a100a"/>
<rect x="595.67" y="135.0" width="1.90" height="66.0" fill="#7a100a"/>
<rect x="611.14" y="171.0" width="1.90" height="30.0" fill="#7a100a"/>
<rect x="626.62" y="165.0" width="1.90" height="36.0" fill="#7a100a"/>
<rect x="642.09" y="178.0" width="1.90" height="23.0" fill="#7a100a"/>
<rect x="657.57" y="156.0" width="1.90" height="45.0" fill="#7a100a"/>
<rect x="673.04" y="164.5" width="1.90" height="36.5" fill="#7a100a"/>
<rect x="688.52" y="93.5" width="1.90" height="107.5" fill="#7a100a"/>
<rect x="703.99" y="123.5" width="1.90" height="77.5" fill="#7a100a"/>
<rect x="719.47" y="127.0" width="1.90" height="74.0" fill="#7a100a"/>
<rect x="734.94" y="107.0" width="1.90" height="94.0" fill="#7a100a"/>
<rect x="750.42" y="94.5" width="1.90" height="106.5" fill="#7a100a"/>
<rect x="765.89" y="144.0" width="1.90" height="57.0" fill="#7a100a"/>
</g>
<g>
<rect x="112.21" y="485.5" width="1.64" height="53.0" fill="#4a98cc"/>
<rect x="113.49" y="485.5" width="1.64" height="31.5" fill="#4a98cc"/>
<rect x="114.78" y="485.5" width="1.64" height="4.5" fill="#4a98cc"/>
<rect x="118.65" y="475.0" width="1.64" height="11.5" fill="#ff3214"/>
<rect x="119.94" y="485.5" width="1.64" height="38.0" fill="#4a98cc"/>
<rect x="121.23" y="485.5" width="1.64" height="20.0" fill="#4a98cc"/>
<rect x="122.52" y="485.5" width="1.64" height="7.5" fill="#4a98cc"/>
<rect x="123.81" y="485.5" width="1.64" height="32.0" fill="#4a98cc"/>
<rect x="125.10" y="485.5" width="1.64" height="3.5" fill="#4a98cc"/>
<rect x="126.39" y="466.0" width="1.64" height="20.5" fill="#ff3214"/>
<rect x="127.68" y="485.5" width="1.64" height="57.0" fill="#4a98cc"/>
<rect x="128.97" y="485.5" width="1.64" height="14.5" fill="#4a98cc"/>
<rect x="130.26" y="485.5" width="1.64" height="50.0" fill="#4a98cc"/>
<rect x="132.84" y="485.5" width="1.64" height="48.0" fill="#4a98cc"/>
<rect x="134.13" y="485.5" width="1.64" height="6.5" fill="#4a98cc"/>
<rect x="135.42" y="485.5" width="1.64" height="29.0" fill="#4a98cc"/>
<rect x="136.71" y="485.5" width="1.64" height="20.0" fill="#4a98cc"/>
<rect x="138.00" y="485.5" width="1.64" height="4.5" fill="#4a98cc"/>
<rect x="139.29" y="485.5" width="1.64" height="16.0" fill="#4a98cc"/>
<rect x="140.58" y="485.5" width="1.64" height="27.0" fill="#4a98cc"/>
<rect x="141.87" y="485.5" width="1.64" height="11.5" fill="#4a98cc"/>
<rect x="143.16" y="485.5" width="1.64" height="13.5" fill="#4a98cc"/>
<rect x="144.44" y="485.5" width="1.64" height="12.5" fill="#4a98cc"/>
<rect x="145.73" y="485.5" width="1.64" height="3.5" fill="#4a98cc"/>
<rect x="148.31" y="485.5" width="1.64" height="9.5" fill="#4a98cc"/>
<rect x="149.60" y="485.0" width="1.64" height="1.5" fill="#ff3214"/>
<rect x="150.89" y="485.5" width="1.64" height="15.5" fill="#4a98cc"/>
<rect x="152.18" y="485.5" width="1.64" height="19.0" fill="#4a98cc"/>
<rect x="153.47" y="482.5" width="1.64" height="4.0" fill="#ff3214"/>
<rect x="154.76" y="476.0" width="1.64" height="10.5" fill="#ff3214"/>
<rect x="156.05" y="485.5" width="1.64" height="8.5" fill="#4a98cc"/>
<rect x="157.34" y="485.5" width="1.64" height="18.0" fill="#4a98cc"/>
<rect x="158.63" y="485.5" width="1.64" height="33.0" fill="#4a98cc"/>
<rect x="159.92" y="485.5" width="1.64" height="17.0" fill="#4a98cc"/>
<rect x="161.21" y="485.5" width="1.64" height="6.0" fill="#4a98cc"/>
<rect x="163.79" y="485.5" width="1.64" height="14.5" fill="#4a98cc"/>
<rect x="165.08" y="485.5" width="1.64" height="21.0" fill="#4a98cc"/>
<rect x="166.37" y="485.5" width="1.64" height="7.5" fill="#4a98cc"/>
<rect x="167.66" y="485.5" width="1.64" height="12.5" fill="#4a98cc"/>
<rect x="168.95" y="470.5" width="1.64" height="16.0" fill="#ff3214"/>
<rect x="170.24" y="485.5" width="1.64" height="8.5" fill="#4a98cc"/>
<rect x="171.53" y="471.0" width="1.64" height="15.5" fill="#ff3214"/>
<rect x="172.82" y="457.0" width="1.64" height="29.5" fill="#ff3214"/>
<rect x="174.11" y="453.0" width="1.64" height="33.5" fill="#ff3214"/>
<rect x="175.39" y="485.5" width="1.64" height="28.0" fill="#4a98cc"/>
<rect x="176.68" y="484.0" width="1.64" height="2.5" fill="#ff3214"/>
<rect x="179.26" y="482.0" width="1.64" height="4.5" fill="#ff3214"/>
<rect x="180.55" y="485.5" width="1.64" height="14.0" fill="#4a98cc"/>
<rect x="181.84" y="482.0" width="1.64" height="4.5" fill="#ff3214"/>
<rect x="183.13" y="485.5" width="1.64" height="18.0" fill="#4a98cc"/>
<rect x="184.42" y="475.0" width="1.64" height="11.5" fill="#ff3214"/>
<rect x="185.71" y="485.5" width="1.64" height="5.0" fill="#4a98cc"/>
<rect x="187.00" y="485.5" width="1.64" height="15.0" fill="#4a98cc"/>
<rect x="189.58" y="475.0" width="1.64" height="11.5" fill="#ff3214"/>
<rect x="190.87" y="485.5" width="1.64" height="9.5" fill="#4a98cc"/>
<rect x="192.16" y="485.5" width="1.64" height="35.0" fill="#4a98cc"/>
<rect x="194.74" y="485.5" width="1.64" height="4.5" fill="#4a98cc"/>
<rect x="196.03" y="485.5" width="1.64" height="25.5" fill="#4a98cc"/>
<rect x="197.32" y="485.5" width="1.64" height="29.0" fill="#4a98cc"/>
<rect x="198.61" y="485.5" width="1.64" height="27.5" fill="#4a98cc"/>
<rect x="199.90" y="485.5" width="1.64" height="7.0" fill="#4a98cc"/>
<rect x="201.19" y="476.0" width="1.64" height="10.5" fill="#ff3214"/>
<rect x="203.77" y="485.5" width="1.64" height="12.0" fill="#4a98cc"/>
<rect x="205.06" y="485.5" width="1.64" height="95.0" fill="#4a98cc"/>
<rect x="206.34" y="485.5" width="1.64" height="105.0" fill="#4a98cc"/>
<rect x="207.63" y="485.5" width="1.64" height="38.0" fill="#4a98cc"/>
<rect x="210.21" y="485.5" width="1.64" height="6.5" fill="#4a98cc"/>
<rect x="211.50" y="485.5" width="1.64" height="24.0" fill="#4a98cc"/>
<rect x="212.79" y="485.5" width="1.64" height="20.5" fill="#4a98cc"/>
<rect x="214.08" y="485.5" width="1.64" height="5.0" fill="#4a98cc"/>
<rect x="215.37" y="485.5" width="1.64" height="6.5" fill="#4a98cc"/>
<rect x="216.66" y="485.5" width="1.64" height="3.5" fill="#4a98cc"/>
<rect x="217.95" y="485.5" width="1.64" height="31.0" fill="#4a98cc"/>
<rect x="219.24" y="485.5" width="1.64" height="12.0" fill="#4a98cc"/>
<rect x="220.53" y="485.5" width="1.64" height="12.5" fill="#4a98cc"/>
<rect x="221.82" y="485.5" width="1.64" height="80.0" fill="#4a98cc"/>
<rect x="223.11" y="485.5" width="1.64" height="12.5" fill="#4a98cc"/>
<rect x="225.69" y="479.0" width="1.64" height="7.5" fill="#ff3214"/>
<rect x="226.98" y="479.0" width="1.64" height="7.5" fill="#ff3214"/>
<rect x="228.27" y="485.5" width="1.64" height="17.5" fill="#4a98cc"/>
<rect x="229.56" y="485.5" width="1.64" height="15.5" fill="#4a98cc"/>
<rect x="230.85" y="485.5" width="1.64" height="26.0" fill="#4a98cc"/>
<rect x="232.14" y="485.5" width="1.64" height="4.5" fill="#4a98cc"/>
<rect x="233.43" y="476.0" width="1.64" height="10.5" fill="#ff3214"/>
<rect x="234.72" y="485.5" width="1.64" height="32.5" fill="#4a98cc"/>
<rect x="236.01" y="485.5" width="1.64" height="114.0" fill="#4a98cc"/>
<rect x="237.29" y="485.5" width="1.64" height="11.5" fill="#4a98cc"/>
<rect x="238.58" y="485.5" width="1.64" height="83.0" fill="#4a98cc"/>
<rect x="241.16" y="485.5" width="1.64" height="30.0" fill="#4a98cc"/>
<rect x="242.45" y="485.5" width="1.64" height="17.0" fill="#4a98cc"/>
<rect x="243.74" y="485.5" width="1.64" height="16.0" fill="#4a98cc"/>
<rect x="245.03" y="485.5" width="1.64" height="34.0" fill="#4a98cc"/>
<rect x="246.32" y="478.0" width="1.64" height="8.5" fill="#ff3214"/>
<rect x="247.61" y="485.5" width="1.64" height="3.5" fill="#4a98cc"/>
<rect x="248.90" y="485.5" width="1.64" height="7.0" fill="#4a98cc"/>
<rect x="250.19" y="485.5" width="1.64" height="2.5" fill="#4a98cc"/>
<rect x="251.48" y="460.5" width="1.64" height="26.0" fill="#ff3214"/>
<rect x="252.77" y="476.5" width="1.64" height="10.0" fill="#ff3214"/>
<rect x="254.06" y="485.5" width="1.64" height="16.0" fill="#4a98cc"/>
<rect x="256.64" y="479.0" width="1.64" height="7.5" fill="#ff3214"/>
<rect x="257.93" y="485.0" width="1.64" height="1.5" fill="#ff3214"/>
<rect x="259.22" y="475.0" width="1.64" height="11.5" fill="#ff3214"/>
<rect x="260.51" y="485.5" width="1.64" height="6.0" fill="#4a98cc"/>
<rect x="261.80" y="484.0" width="1.64" height="2.5" fill="#ff3214"/>
<rect x="263.09" y="485.5" width="1.64" height="8.0" fill="#4a98cc"/>
<rect x="264.38" y="485.5" width="1.64" height="54.5" fill="#4a98cc"/>
<rect x="265.67" y="485.5" width="1.64" height="7.5" fill="#4a98cc"/>
<rect x="266.96" y="450.0" width="1.64" height="36.5" fill="#ff3214"/>
<rect x="268.24" y="428.0" width="1.64" height="58.5" fill="#ff3214"/>
<rect x="269.53" y="435.5" width="1.64" height="51.0" fill="#ff3214"/>
<rect x="272.11" y="480.0" width="1.64" height="6.5" fill="#ff3214"/>
<rect x="273.40" y="485.0" width="1.64" height="1.5" fill="#ff3214"/>
<rect x="274.69" y="485.5" width="1.64" height="4.5" fill="#4a98cc"/>
<rect x="275.98" y="485.5" width="1.64" height="3.0" fill="#4a98cc"/>
<rect x="277.27" y="481.0" width="1.64" height="5.5" fill="#ff3214"/>
<rect x="278.56" y="485.0" width="1.64" height="1.5" fill="#ff3214"/>
<rect x="279.85" y="485.5" width="1.64" height="4.5" fill="#4a98cc"/>
<rect x="281.14" y="476.0" width="1.64" height="10.5" fill="#ff3214"/>
<rect x="282.43" y="475.0" width="1.64" height="11.5" fill="#ff3214"/>
<rect x="283.72" y="391.0" width="1.64" height="95.5" fill="#ff3214"/>
<rect x="285.01" y="437.5" width="1.64" height="49.0" fill="#ff3214"/>
<rect x="287.59" y="485.5" width="1.64" height="4.5" fill="#4a98cc"/>
<rect x="288.88" y="485.5" width="1.64" height="14.5" fill="#4a98cc"/>
<rect x="290.17" y="485.5" width="1.64" height="16.0" fill="#4a98cc"/>
<rect x="291.46" y="485.5" width="1.64" height="5.5" fill="#4a98cc"/>
<rect x="292.75" y="485.5" width="1.64" height="21.0" fill="#4a98cc"/>
<rect x="294.04" y="479.0" width="1.64" height="7.5" fill="#ff3214"/>
<rect x="295.33" y="477.0" width="1.64" height="9.5" fill="#ff3214"/>
<rect x="296.62" y="477.5" width="1.64" height="9.0" fill="#ff3214"/>
<rect x="297.91" y="476.5" width="1.64" height="10.0" fill="#ff3214"/>
<rect x="299.19" y="485.5" width="1.64" height="41.0" fill="#4a98cc"/>
<rect x="300.48" y="474.0" width="1.64" height="12.5" fill="#ff3214"/>
<rect x="303.06" y="485.5" width="1.64" height="45.5" fill="#4a98cc"/>
<rect x="304.35" y="485.5" width="1.64" height="4.0" fill="#4a98cc"/>
<rect x="305.64" y="483.5" width="1.64" height="3.0" fill="#ff3214"/>
<rect x="306.93" y="483.0" width="1.64" height="3.5" fill="#ff3214"/>
<rect x="308.22" y="482.0" width="1.64" height="4.5" fill="#ff3214"/>
<rect x="309.51" y="485.5" width="1.64" height="7.5" fill="#4a98cc"/>
<rect x="310.80" y="475.0" width="1.64" height="11.5" fill="#ff3214"/>
<rect x="312.09" y="485.5" width="1.64" height="9.0" fill="#4a98cc"/>
<rect x="313.38" y="478.0" width="1.64" height="8.5" fill="#ff3214"/>
<rect x="314.67" y="468.0" width="1.64" height="18.5" fill="#ff3214"/>
<rect x="315.96" y="470.0" width="1.64" height="16.5" fill="#ff3214"/>
<rect x="318.54" y="484.0" width="1.64" height="2.5" fill="#ff3214"/>
<rect x="319.83" y="485.5" width="1.64" height="4.5" fill="#4a98cc"/>
<rect x="321.12" y="485.5" width="1.64" height="19.0" fill="#4a98cc"/>
<rect x="322.41" y="472.0" width="1.64" height="14.5" fill="#ff3214"/>
<rect x="323.70" y="485.5" width="1.64" height="3.5" fill="#4a98cc"/>
<rect x="324.99" y="485.5" width="1.64" height="48.0" fill="#4a98cc"/>
<rect x="326.28" y="485.0" width="1.64" height="1.5" fill="#ff3214"/>
<rect x="327.57" y="480.0" width="1.64" height="6.5" fill="#ff3214"/>
<rect x="328.86" y="467.0" width="1.64" height="19.5" fill="#ff3214"/>
<rect x="330.14" y="485.5" width="1.64" height="3.5" fill="#4a98cc"/>
<rect x="331.43" y="485.5" width="1.64" height="14.0" fill="#4a98cc"/>
<rect x="334.01" y="473.0" width="1.64" height="13.5" fill="#ff3214"/>
<rect x="335.30" y="485.5" width="1.64" height="22.0" fill="#4a98cc"/>
<rect x="336.59" y="485.5" width="1.64" height="27.0" fill="#4a98cc"/>
<rect x="337.88" y="485.5" width="1.64" height="20.5" fill="#4a98cc"/>
<rect x="339.17" y="485.5" width="1.64" height="38.0" fill="#4a98cc"/>
<rect x="340.46" y="485.5" width="1.64" height="17.5" fill="#4a98cc"/>
<rect x="341.75" y="485.5" width="1.64" height="69.1" fill="#4a98cc"/>
<rect x="343.04" y="464.0" width="1.64" height="22.5" fill="#ff3214"/>
<rect x="344.33" y="453.5" width="1.64" height="33.0" fill="#ff3214"/>
<rect x="345.62" y="485.5" width="1.64" height="35.0" fill="#4a98cc"/>
<rect x="346.91" y="470.0" width="1.64" height="16.5" fill="#ff3214"/>
<rect x="349.49" y="485.5" width="1.64" height="12.0" fill="#4a98cc"/>
<rect x="350.78" y="485.5" width="1.64" height="13.0" fill="#4a98cc"/>
<rect x="352.07" y="463.0" width="1.64" height="23.5" fill="#ff3214"/>
<rect x="353.36" y="478.0" width="1.64" height="8.5" fill="#ff3214"/>
<rect x="354.65" y="465.0" width="1.64" height="21.5" fill="#ff3214"/>
<rect x="355.94" y="485.5" width="1.64" height="7.0" fill="#4a98cc"/>
<rect x="357.23" y="475.0" width="1.64" height="11.5" fill="#ff3214"/>
<rect x="358.52" y="472.0" width="1.64" height="14.5" fill="#ff3214"/>
<rect x="359.81" y="475.0" width="1.64" height="11.5" fill="#ff3214"/>
<rect x="361.09" y="414.6" width="1.64" height="71.9" fill="#ff3214"/>
<rect x="362.38" y="475.0" width="1.64" height="11.5" fill="#ff3214"/>
<rect x="364.96" y="485.5" width="1.64" height="4.5" fill="#4a98cc"/>
<rect x="366.25" y="475.0" width="1.64" height="11.5" fill="#ff3214"/>
<rect x="367.54" y="484.0" width="1.64" height="2.5" fill="#ff3214"/>
<rect x="370.12" y="485.5" width="1.64" height="11.0" fill="#4a98cc"/>
<rect x="371.41" y="466.0" width="1.64" height="20.5" fill="#ff3214"/>
<rect x="372.70" y="485.5" width="1.64" height="29.5" fill="#4a98cc"/>
<rect x="373.99" y="485.5" width="1.64" height="37.0" fill="#4a98cc"/>
<rect x="375.28" y="485.5" width="1.64" height="15.5" fill="#4a98cc"/>
<rect x="376.57" y="485.5" width="1.64" height="49.0" fill="#4a98cc"/>
<rect x="377.86" y="485.5" width="1.64" height="44.0" fill="#4a98cc"/>
<rect x="380.44" y="485.0" width="1.64" height="1.5" fill="#ff3214"/>
<rect x="381.73" y="485.5" width="1.64" height="1.5" fill="#4a98cc"/>
<rect x="383.02" y="485.5" width="1.64" height="21.0" fill="#4a98cc"/>
<rect x="384.31" y="484.0" width="1.64" height="2.5" fill="#ff3214"/>
<rect x="385.60" y="485.5" width="1.64" height="40.0" fill="#4a98cc"/>
<rect x="386.89" y="485.5" width="1.64" height="2.5" fill="#4a98cc"/>
<rect x="388.18" y="456.0" width="1.64" height="30.5" fill="#ff3214"/>
<rect x="389.47" y="485.5" width="1.64" height="20.5" fill="#4a98cc"/>
<rect x="390.76" y="485.5" width="1.64" height="10.0" fill="#4a98cc"/>
<rect x="392.04" y="455.0" width="1.64" height="31.5" fill="#ff3214"/>
<rect x="393.33" y="478.0" width="1.64" height="8.5" fill="#ff3214"/>
<rect x="395.91" y="485.5" width="1.64" height="5.0" fill="#4a98cc"/>
<rect x="397.20" y="480.0" width="1.64" height="6.5" fill="#ff3214"/>
<rect x="398.49" y="485.5" width="1.64" height="9.0" fill="#4a98cc"/>
<rect x="399.78" y="476.0" width="1.64" height="10.5" fill="#ff3214"/>
<rect x="401.07" y="485.5" width="1.64" height="10.0" fill="#4a98cc"/>
<rect x="402.36" y="485.5" width="1.64" height="23.0" fill="#4a98cc"/>
<rect x="403.65" y="478.0" width="1.64" height="8.5" fill="#ff3214"/>
<rect x="404.94" y="479.5" width="1.64" height="7.0" fill="#ff3214"/>
<rect x="406.23" y="454.0" width="1.64" height="32.5" fill="#ff3214"/>
<rect x="407.52" y="459.5" width="1.64" height="27.0" fill="#ff3214"/>
<rect x="408.81" y="485.5" width="1.64" height="14.0" fill="#4a98cc"/>
<rect x="412.68" y="474.0" width="1.64" height="12.5" fill="#ff3214"/>
<rect x="413.97" y="485.5" width="1.64" height="4.0" fill="#4a98cc"/>
<rect x="415.26" y="485.5" width="1.64" height="7.0" fill="#4a98cc"/>
<rect x="416.55" y="484.0" width="1.64" height="2.5" fill="#ff3214"/>
<rect x="417.84" y="485.5" width="1.64" height="4.5" fill="#4a98cc"/>
<rect x="419.13" y="485.5" width="1.64" height="49.0" fill="#4a98cc"/>
<rect x="420.42" y="485.5" width="1.64" height="18.5" fill="#4a98cc"/>
<rect x="421.71" y="474.0" width="1.64" height="12.5" fill="#ff3214"/>
<rect x="422.99" y="485.5" width="1.64" height="4.0" fill="#4a98cc"/>
<rect x="424.28" y="471.0" width="1.64" height="15.5" fill="#ff3214"/>
<rect x="426.86" y="485.5" width="1.64" height="11.0" fill="#4a98cc"/>
<rect x="428.15" y="457.5" width="1.64" height="29.0" fill="#ff3214"/>
<rect x="429.44" y="467.0" width="1.64" height="19.5" fill="#ff3214"/>
<rect x="430.73" y="485.5" width="1.64" height="3.0" fill="#4a98cc"/>
<rect x="432.02" y="456.5" width="1.64" height="30.0" fill="#ff3214"/>
<rect x="433.31" y="473.0" width="1.64" height="13.5" fill="#ff3214"/>
<rect x="434.60" y="485.5" width="1.64" height="10.0" fill="#4a98cc"/>
<rect x="435.89" y="470.0" width="1.64" height="16.5" fill="#ff3214"/>
<rect x="437.18" y="485.5" width="1.64" height="9.0" fill="#4a98cc"/>
<rect x="438.47" y="444.0" width="1.64" height="42.5" fill="#ff3214"/>
<rect x="439.76" y="478.0" width="1.64" height="8.5" fill="#ff3214"/>
<rect x="442.34" y="473.0" width="1.64" height="13.5" fill="#ff3214"/>
<rect x="443.63" y="481.0" width="1.64" height="5.5" fill="#ff3214"/>
<rect x="444.92" y="485.5" width="1.64" height="9.0" fill="#4a98cc"/>
<rect x="446.21" y="481.0" width="1.64" height="5.5" fill="#ff3214"/>
<rect x="447.50" y="485.5" width="1.64" height="4.5" fill="#4a98cc"/>
<rect x="448.79" y="463.0" width="1.64" height="23.5" fill="#ff3214"/>
<rect x="450.08" y="444.0" width="1.64" height="42.5" fill="#ff3214"/>
<rect x="451.37" y="444.0" width="1.64" height="42.5" fill="#ff3214"/>
<rect x="452.66" y="443.5" width="1.64" height="43.0" fill="#ff3214"/>
<rect x="453.94" y="482.0" width="1.64" height="4.5" fill="#ff3214"/>
<rect x="455.23" y="472.0" width="1.64" height="14.5" fill="#ff3214"/>
<rect x="457.81" y="485.5" width="1.64" height="3.5" fill="#4a98cc"/>
<rect x="459.10" y="485.5" width="1.64" height="2.0" fill="#4a98cc"/>
<rect x="460.39" y="461.0" width="1.64" height="25.5" fill="#ff3214"/>
<rect x="461.68" y="471.0" width="1.64" height="15.5" fill="#ff3214"/>
<rect x="462.97" y="485.5" width="1.64" height="2.5" fill="#4a98cc"/>
<rect x="464.26" y="453.5" width="1.64" height="33.0" fill="#ff3214"/>
<rect x="465.55" y="485.5" width="1.64" height="10.5" fill="#4a98cc"/>
<rect x="466.84" y="485.5" width="1.64" height="56.0" fill="#4a98cc"/>
<rect x="468.13" y="479.0" width="1.64" height="7.5" fill="#ff3214"/>
<rect x="469.42" y="411.3" width="1.64" height="75.2" fill="#ff3214"/>
<rect x="470.71" y="450.0" width="1.64" height="36.5" fill="#ff3214"/>
<rect x="473.29" y="471.0" width="1.64" height="15.5" fill="#ff3214"/>
<rect x="474.58" y="465.5" width="1.64" height="21.0" fill="#ff3214"/>
<rect x="475.87" y="466.5" width="1.64" height="20.0" fill="#ff3214"/>
<rect x="477.16" y="477.0" width="1.64" height="9.5" fill="#ff3214"/>
<rect x="478.45" y="485.5" width="1.64" height="6.0" fill="#4a98cc"/>
<rect x="479.74" y="485.5" width="1.64" height="23.5" fill="#4a98cc"/>
<rect x="481.03" y="477.0" width="1.64" height="9.5" fill="#ff3214"/>
<rect x="482.32" y="485.5" width="1.64" height="45.0" fill="#4a98cc"/>
<rect x="483.61" y="485.5" width="1.64" height="18.0" fill="#4a98cc"/>
<rect x="484.89" y="485.5" width="1.64" height="32.5" fill="#4a98cc"/>
<rect x="486.18" y="484.0" width="1.64" height="2.5" fill="#ff3214"/>
<rect x="488.76" y="452.5" width="1.64" height="34.0" fill="#ff3214"/>
<rect x="490.05" y="461.0" width="1.64" height="25.5" fill="#ff3214"/>
<rect x="491.34" y="460.0" width="1.64" height="26.5" fill="#ff3214"/>
<rect x="492.63" y="458.5" width="1.64" height="28.0" fill="#ff3214"/>
<rect x="493.92" y="483.0" width="1.64" height="3.5" fill="#ff3214"/>
<rect x="495.21" y="485.5" width="1.64" height="23.0" fill="#4a98cc"/>
<rect x="496.50" y="454.5" width="1.64" height="32.0" fill="#ff3214"/>
<rect x="497.79" y="466.5" width="1.64" height="20.0" fill="#ff3214"/>
<rect x="499.08" y="485.5" width="1.64" height="9.0" fill="#4a98cc"/>
<rect x="500.37" y="474.0" width="1.64" height="12.5" fill="#ff3214"/>
<rect x="501.66" y="472.5" width="1.64" height="14.0" fill="#ff3214"/>
<rect x="504.24" y="485.5" width="1.64" height="21.0" fill="#4a98cc"/>
<rect x="505.53" y="485.5" width="1.64" height="6.5" fill="#4a98cc"/>
<rect x="506.82" y="485.5" width="1.64" height="6.0" fill="#4a98cc"/>
<rect x="508.11" y="476.0" width="1.64" height="10.5" fill="#ff3214"/>
<rect x="509.40" y="474.0" width="1.64" height="12.5" fill="#ff3214"/>
<rect x="510.69" y="468.0" width="1.64" height="18.5" fill="#ff3214"/>
<rect x="511.98" y="485.5" width="1.64" height="2.0" fill="#4a98cc"/>
<rect x="513.27" y="458.5" width="1.64" height="28.0" fill="#ff3214"/>
<rect x="514.56" y="448.5" width="1.64" height="38.0" fill="#ff3214"/>
<rect x="515.84" y="485.5" width="1.64" height="29.0" fill="#4a98cc"/>
<rect x="517.13" y="485.5" width="1.64" height="32.0" fill="#4a98cc"/>
<rect x="519.71" y="477.5" width="1.64" height="9.0" fill="#ff3214"/>
<rect x="521.00" y="480.0" width="1.64" height="6.5" fill="#ff3214"/>
<rect x="522.29" y="473.5" width="1.64" height="13.0" fill="#ff3214"/>
<rect x="523.58" y="485.5" width="1.64" height="1.5" fill="#4a98cc"/>
<rect x="524.87" y="468.5" width="1.64" height="18.0" fill="#ff3214"/>
<rect x="526.16" y="470.0" width="1.64" height="16.5" fill="#ff3214"/>
<rect x="527.45" y="472.0" width="1.64" height="14.5" fill="#ff3214"/>
<rect x="528.74" y="481.5" width="1.64" height="5.0" fill="#ff3214"/>
<rect x="530.03" y="485.5" width="1.64" height="36.5" fill="#4a98cc"/>
<rect x="531.32" y="485.5" width="1.64" height="36.0" fill="#4a98cc"/>
<rect x="532.61" y="485.5" width="1.64" height="35.0" fill="#4a98cc"/>
<rect x="535.19" y="465.5" width="1.64" height="21.0" fill="#ff3214"/>
<rect x="536.48" y="462.0" width="1.64" height="24.5" fill="#ff3214"/>
<rect x="537.77" y="478.0" width="1.64" height="8.5" fill="#ff3214"/>
<rect x="539.06" y="454.0" width="1.64" height="32.5" fill="#ff3214"/>
<rect x="540.35" y="454.0" width="1.64" height="32.5" fill="#ff3214"/>
<rect x="541.64" y="456.0" width="1.64" height="30.5" fill="#ff3214"/>
<rect x="542.93" y="456.0" width="1.64" height="30.5" fill="#ff3214"/>
<rect x="544.22" y="426.0" width="1.64" height="60.5" fill="#ff3214"/>
<rect x="545.51" y="426.0" width="1.64" height="60.5" fill="#ff3214"/>
<rect x="548.08" y="436.0" width="1.64" height="50.5" fill="#ff3214"/>
<rect x="550.66" y="461.5" width="1.64" height="25.0" fill="#ff3214"/>
<rect x="551.95" y="463.0" width="1.64" height="23.5" fill="#ff3214"/>
<rect x="553.24" y="474.0" width="1.64" height="12.5" fill="#ff3214"/>
<rect x="554.53" y="469.0" width="1.64" height="17.5" fill="#ff3214"/>
<rect x="555.82" y="485.5" width="1.64" height="4.5" fill="#4a98cc"/>
<rect x="557.11" y="475.0" width="1.64" height="11.5" fill="#ff3214"/>
<rect x="558.40" y="485.5" width="1.64" height="12.5" fill="#4a98cc"/>
<rect x="559.69" y="463.0" width="1.64" height="23.5" fill="#ff3214"/>
<rect x="560.98" y="454.0" width="1.64" height="32.5" fill="#ff3214"/>
<rect x="562.27" y="432.0" width="1.64" height="54.5" fill="#ff3214"/>
<rect x="563.56" y="464.0" width="1.64" height="22.5" fill="#ff3214"/>
<rect x="566.14" y="485.5" width="1.64" height="2.0" fill="#4a98cc"/>
<rect x="567.43" y="480.0" width="1.64" height="6.5" fill="#ff3214"/>
<rect x="568.72" y="484.0" width="1.64" height="2.5" fill="#ff3214"/>
<rect x="570.01" y="478.0" width="1.64" height="8.5" fill="#ff3214"/>
<rect x="571.30" y="485.5" width="1.64" height="12.0" fill="#4a98cc"/>
<rect x="572.59" y="471.0" width="1.64" height="15.5" fill="#ff3214"/>
<rect x="573.88" y="465.5" width="1.64" height="21.0" fill="#ff3214"/>
<rect x="575.17" y="463.0" width="1.64" height="23.5" fill="#ff3214"/>
<rect x="576.46" y="484.0" width="1.64" height="2.5" fill="#ff3214"/>
<rect x="577.74" y="479.0" width="1.64" height="7.5" fill="#ff3214"/>
<rect x="579.03" y="483.0" width="1.64" height="3.5" fill="#ff3214"/>
<rect x="581.61" y="471.0" width="1.64" height="15.5" fill="#ff3214"/>
<rect x="582.90" y="478.0" width="1.64" height="8.5" fill="#ff3214"/>
<rect x="584.19" y="479.0" width="1.64" height="7.5" fill="#ff3214"/>
<rect x="585.48" y="478.0" width="1.64" height="8.5" fill="#ff3214"/>
<rect x="586.77" y="465.0" width="1.64" height="21.5" fill="#ff3214"/>
<rect x="588.06" y="485.5" width="1.64" height="2.5" fill="#4a98cc"/>
<rect x="589.35" y="440.0" width="1.64" height="46.5" fill="#ff3214"/>
<rect x="591.93" y="485.5" width="1.64" height="57.0" fill="#4a98cc"/>
<rect x="593.22" y="485.5" width="1.64" height="14.0" fill="#4a98cc"/>
<rect x="594.51" y="485.5" width="1.64" height="3.5" fill="#4a98cc"/>
<rect x="597.09" y="475.0" width="1.64" height="11.5" fill="#ff3214"/>
<rect x="598.38" y="474.5" width="1.64" height="12.0" fill="#ff3214"/>
<rect x="599.67" y="441.0" width="1.64" height="45.5" fill="#ff3214"/>
<rect x="600.96" y="457.5" width="1.64" height="29.0" fill="#ff3214"/>
<rect x="602.25" y="482.0" width="1.64" height="4.5" fill="#ff3214"/>
<rect x="603.54" y="485.5" width="1.64" height="21.0" fill="#4a98cc"/>
<rect x="604.83" y="464.0" width="1.64" height="22.5" fill="#ff3214"/>
<rect x="606.12" y="485.5" width="1.64" height="44.0" fill="#4a98cc"/>
<rect x="607.41" y="482.0" width="1.64" height="4.5" fill="#ff3214"/>
<rect x="608.69" y="485.5" width="1.64" height="32.5" fill="#4a98cc"/>
<rect x="609.98" y="485.0" width="1.64" height="1.5" fill="#ff3214"/>
<rect x="612.56" y="474.0" width="1.64" height="12.5" fill="#ff3214"/>
<rect x="613.85" y="468.0" width="1.64" height="18.5" fill="#ff3214"/>
<rect x="615.14" y="474.5" width="1.64" height="12.0" fill="#ff3214"/>
<rect x="616.43" y="477.0" width="1.64" height="9.5" fill="#ff3214"/>
<rect x="617.72" y="452.0" width="1.64" height="34.5" fill="#ff3214"/>
<rect x="619.01" y="480.0" width="1.64" height="6.5" fill="#ff3214"/>
<rect x="620.30" y="469.0" width="1.64" height="17.5" fill="#ff3214"/>
<rect x="621.59" y="431.0" width="1.64" height="55.5" fill="#ff3214"/>
<rect x="622.88" y="482.0" width="1.64" height="4.5" fill="#ff3214"/>
<rect x="624.17" y="485.5" width="1.64" height="72.3" fill="#4a98cc"/>
<rect x="625.46" y="465.0" width="1.64" height="21.5" fill="#ff3214"/>
<rect x="628.04" y="465.0" width="1.64" height="21.5" fill="#ff3214"/>
<rect x="629.33" y="469.0" width="1.64" height="17.5" fill="#ff3214"/>
<rect x="630.62" y="467.0" width="1.64" height="19.5" fill="#ff3214"/>
<rect x="631.91" y="469.0" width="1.64" height="17.5" fill="#ff3214"/>
<rect x="633.20" y="468.0" width="1.64" height="18.5" fill="#ff3214"/>
<rect x="634.49" y="473.0" width="1.64" height="13.5" fill="#ff3214"/>
<rect x="635.78" y="446.5" width="1.64" height="40.0" fill="#ff3214"/>
<rect x="637.07" y="485.5" width="1.64" height="25.0" fill="#4a98cc"/>
<rect x="638.36" y="481.0" width="1.64" height="5.5" fill="#ff3214"/>
<rect x="639.64" y="463.5" width="1.64" height="23.0" fill="#ff3214"/>
<rect x="640.93" y="485.5" width="1.64" height="48.0" fill="#4a98cc"/>
<rect x="643.51" y="461.0" width="1.64" height="25.5" fill="#ff3214"/>
<rect x="644.80" y="467.5" width="1.64" height="19.0" fill="#ff3214"/>
<rect x="646.09" y="474.0" width="1.64" height="12.5" fill="#ff3214"/>
<rect x="647.38" y="470.0" width="1.64" height="16.5" fill="#ff3214"/>
<rect x="648.67" y="485.5" width="1.64" height="1.5" fill="#4a98cc"/>
<rect x="649.96" y="467.0" width="1.64" height="19.5" fill="#ff3214"/>
<rect x="651.25" y="449.5" width="1.64" height="37.0" fill="#ff3214"/>
<rect x="652.54" y="454.5" width="1.64" height="32.0" fill="#ff3214"/>
<rect x="653.83" y="469.0" width="1.64" height="17.5" fill="#ff3214"/>
<rect x="655.12" y="416.0" width="1.64" height="70.5" fill="#ff3214"/>
<rect x="656.41" y="432.5" width="1.64" height="54.0" fill="#ff3214"/>
<rect x="658.99" y="475.0" width="1.64" height="11.5" fill="#ff3214"/>
<rect x="660.28" y="485.5" width="1.64" height="3.0" fill="#4a98cc"/>
<rect x="661.57" y="464.5" width="1.64" height="22.0" fill="#ff3214"/>
<rect x="662.86" y="477.0" width="1.64" height="9.5" fill="#ff3214"/>
<rect x="664.15" y="466.0" width="1.64" height="20.5" fill="#ff3214"/>
<rect x="665.44" y="472.0" width="1.64" height="14.5" fill="#ff3214"/>
<rect x="666.73" y="456.0" width="1.64" height="30.5" fill="#ff3214"/>
<rect x="668.02" y="457.5" width="1.64" height="29.0" fill="#ff3214"/>
<rect x="669.31" y="458.0" width="1.64" height="28.5" fill="#ff3214"/>
<rect x="670.59" y="452.0" width="1.64" height="34.5" fill="#ff3214"/>
<rect x="671.88" y="449.5" width="1.64" height="37.0" fill="#ff3214"/>
<rect x="674.46" y="475.0" width="1.64" height="11.5" fill="#ff3214"/>
<rect x="675.75" y="482.5" width="1.64" height="4.0" fill="#ff3214"/>
<rect x="677.04" y="476.0" width="1.64" height="10.5" fill="#ff3214"/>
<rect x="678.33" y="458.0" width="1.64" height="28.5" fill="#ff3214"/>
<rect x="679.62" y="456.0" width="1.64" height="30.5" fill="#ff3214"/>
<rect x="680.91" y="485.5" width="1.64" height="3.0" fill="#4a98cc"/>
<rect x="682.20" y="437.0" width="1.64" height="49.5" fill="#ff3214"/>
<rect x="683.49" y="419.7" width="1.64" height="66.8" fill="#ff3214"/>
<rect x="684.78" y="485.5" width="1.64" height="17.0" fill="#4a98cc"/>
<rect x="686.07" y="407.9" width="1.64" height="78.6" fill="#ff3214"/>
<rect x="687.36" y="460.0" width="1.64" height="26.5" fill="#ff3214"/>
<rect x="689.94" y="468.0" width="1.64" height="18.5" fill="#ff3214"/>
<rect x="691.23" y="463.0" width="1.64" height="23.5" fill="#ff3214"/>
<rect x="692.52" y="466.0" width="1.64" height="20.5" fill="#ff3214"/>
<rect x="693.81" y="471.0" width="1.64" height="15.5" fill="#ff3214"/>
<rect x="695.10" y="456.5" width="1.64" height="30.0" fill="#ff3214"/>
<rect x="696.39" y="485.5" width="1.64" height="4.5" fill="#4a98cc"/>
<rect x="697.68" y="485.5" width="1.64" height="4.0" fill="#4a98cc"/>
<rect x="698.97" y="468.0" width="1.64" height="18.5" fill="#ff3214"/>
<rect x="700.26" y="485.5" width="1.64" height="19.0" fill="#4a98cc"/>
<rect x="701.54" y="450.0" width="1.64" height="36.5" fill="#ff3214"/>
<rect x="702.83" y="434.0" width="1.64" height="52.5" fill="#ff3214"/>
<rect x="705.41" y="482.0" width="1.64" height="4.5" fill="#ff3214"/>
<rect x="706.70" y="467.0" width="1.64" height="19.5" fill="#ff3214"/>
<rect x="707.99" y="480.0" width="1.64" height="6.5" fill="#ff3214"/>
<rect x="709.28" y="464.0" width="1.64" height="22.5" fill="#ff3214"/>
<rect x="710.57" y="472.0" width="1.64" height="14.5" fill="#ff3214"/>
<rect x="711.86" y="471.0" width="1.64" height="15.5" fill="#ff3214"/>
<rect x="713.15" y="469.5" width="1.64" height="17.0" fill="#ff3214"/>
<rect x="714.44" y="443.5" width="1.64" height="43.0" fill="#ff3214"/>
<rect x="715.73" y="443.0" width="1.64" height="43.5" fill="#ff3214"/>
<rect x="717.02" y="485.5" width="1.64" height="19.5" fill="#4a98cc"/>
<rect x="718.31" y="485.5" width="1.64" height="30.0" fill="#4a98cc"/>
<rect x="720.89" y="436.5" width="1.64" height="50.0" fill="#ff3214"/>
<rect x="722.18" y="469.0" width="1.64" height="17.5" fill="#ff3214"/>
<rect x="723.47" y="451.5" width="1.64" height="35.0" fill="#ff3214"/>
<rect x="724.76" y="455.0" width="1.64" height="31.5" fill="#ff3214"/>
<rect x="726.05" y="451.5" width="1.64" height="35.0" fill="#ff3214"/>
<rect x="727.34" y="463.0" width="1.64" height="23.5" fill="#ff3214"/>
<rect x="728.63" y="460.0" width="1.64" height="26.5" fill="#ff3214"/>
<rect x="729.92" y="459.0" width="1.64" height="27.5" fill="#ff3214"/>
<rect x="731.21" y="485.5" width="1.64" height="4.0" fill="#4a98cc"/>
<rect x="732.49" y="429.0" width="1.64" height="57.5" fill="#ff3214"/>
<rect x="733.78" y="451.0" width="1.64" height="35.5" fill="#ff3214"/>
<rect x="736.36" y="485.5" width="1.64" height="1.5" fill="#4a98cc"/>
<rect x="737.65" y="437.0" width="1.64" height="49.5" fill="#ff3214"/>
<rect x="738.94" y="481.0" width="1.64" height="5.5" fill="#ff3214"/>
<rect x="740.23" y="467.0" width="1.64" height="19.5" fill="#ff3214"/>
<rect x="741.52" y="470.0" width="1.64" height="16.5" fill="#ff3214"/>
<rect x="742.81" y="463.0" width="1.64" height="23.5" fill="#ff3214"/>
<rect x="744.10" y="454.0" width="1.64" height="32.5" fill="#ff3214"/>
<rect x="745.39" y="418.4" width="1.64" height="68.1" fill="#ff3214"/>
<rect x="746.68" y="421.6" width="1.64" height="64.9" fill="#ff3214"/>
<rect x="747.97" y="405.3" width="1.64" height="81.2" fill="#ff3214"/>
<rect x="749.26" y="445.0" width="1.64" height="41.5" fill="#ff3214"/>
<rect x="751.84" y="485.5" width="1.64" height="7.0" fill="#4a98cc"/>
<rect x="753.13" y="458.0" width="1.64" height="28.5" fill="#ff3214"/>
<rect x="754.42" y="480.0" width="1.64" height="6.5" fill="#ff3214"/>
<rect x="755.71" y="463.0" width="1.64" height="23.5" fill="#ff3214"/>
<rect x="757.00" y="448.0" width="1.64" height="38.5" fill="#ff3214"/>
<rect x="758.29" y="452.0" width="1.64" height="34.5" fill="#ff3214"/>
<rect x="759.58" y="441.0" width="1.64" height="45.5" fill="#ff3214"/>
<rect x="760.87" y="437.5" width="1.64" height="49.0" fill="#ff3214"/>
<rect x="762.16" y="475.0" width="1.64" height="11.5" fill="#ff3214"/>
<rect x="763.44" y="477.0" width="1.64" height="9.5" fill="#ff3214"/>
<rect x="764.73" y="478.0" width="1.64" height="8.5" fill="#ff3214"/>
<rect x="115.94" y="485.5" width="1.90" height="41.0" fill="#0b1373"/>
<rect x="131.42" y="485.5" width="1.90" height="26.0" fill="#0b1373"/>
<rect x="146.89" y="485.5" width="1.90" height="29.0" fill="#0b1373"/>
<rect x="162.37" y="485.5" width="1.90" height="22.0" fill="#0b1373"/>
<rect x="177.84" y="471.5" width="1.90" height="15.0" fill="#7a100a"/>
<rect x="193.32" y="485.5" width="1.90" height="4.0" fill="#0b1373"/>
<rect x="208.79" y="485.5" width="1.90" height="14.0" fill="#0b1373"/>
<rect x="224.27" y="485.5" width="1.90" height="12.5" fill="#0b1373"/>
<rect x="239.74" y="485.5" width="1.90" height="20.0" fill="#0b1373"/>
<rect x="255.22" y="485.5" width="1.90" height="21.0" fill="#0b1373"/>
<rect x="270.69" y="470.0" width="1.90" height="16.5" fill="#7a100a"/>
<rect x="286.17" y="484.0" width="1.90" height="2.5" fill="#7a100a"/>
<rect x="301.64" y="485.5" width="1.90" height="15.0" fill="#0b1373"/>
<rect x="317.12" y="485.5" width="1.90" height="22.0" fill="#0b1373"/>
<rect x="332.59" y="485.5" width="1.90" height="4.5" fill="#0b1373"/>
<rect x="348.07" y="473.0" width="1.90" height="13.5" fill="#7a100a"/>
<rect x="363.54" y="485.5" width="1.90" height="4.5" fill="#0b1373"/>
<rect x="379.02" y="485.5" width="1.90" height="9.0" fill="#0b1373"/>
<rect x="394.49" y="485.5" width="1.90" height="40.0" fill="#0b1373"/>
<rect x="409.97" y="485.5" width="1.90" height="2.0" fill="#0b1373"/>
<rect x="425.44" y="460.0" width="1.90" height="26.5" fill="#7a100a"/>
<rect x="440.92" y="450.5" width="1.90" height="36.0" fill="#7a100a"/>
<rect x="456.39" y="475.0" width="1.90" height="11.5" fill="#7a100a"/>
<rect x="471.87" y="476.0" width="1.90" height="10.5" fill="#7a100a"/>
<rect x="487.34" y="485.5" width="1.90" height="12.0" fill="#0b1373"/>
<rect x="502.82" y="480.0" width="1.90" height="6.5" fill="#7a100a"/>
<rect x="518.29" y="473.5" width="1.90" height="13.0" fill="#7a100a"/>
<rect x="533.77" y="472.0" width="1.90" height="14.5" fill="#7a100a"/>
<rect x="549.24" y="468.0" width="1.90" height="18.5" fill="#7a100a"/>
<rect x="564.72" y="468.0" width="1.90" height="18.5" fill="#7a100a"/>
<rect x="580.19" y="470.0" width="1.90" height="16.5" fill="#7a100a"/>
<rect x="595.67" y="467.0" width="1.90" height="19.5" fill="#7a100a"/>
<rect x="611.14" y="450.0" width="1.90" height="36.5" fill="#7a100a"/>
<rect x="626.62" y="477.0" width="1.90" height="9.5" fill="#7a100a"/>
<rect x="642.09" y="479.0" width="1.90" height="7.5" fill="#7a100a"/>
<rect x="657.57" y="454.5" width="1.90" height="32.0" fill="#7a100a"/>
<rect x="673.04" y="476.0" width="1.90" height="10.5" fill="#7a100a"/>
<rect x="688.52" y="457.5" width="1.90" height="29.0" fill="#7a100a"/>
<rect x="703.99" y="485.5" width="1.90" height="4.5" fill="#0b1373"/>
<rect x="719.47" y="436.0" width="1.90" height="50.5" fill="#7a100a"/>
<rect x="734.94" y="465.0" width="1.90" height="21.5" fill="#7a100a"/>
<rect x="750.42" y="474.0" width="1.90" height="12.5" fill="#7a100a"/>
<rect x="765.89" y="485.5" width="1.90" height="9.0" fill="#0b1373"/>
</g>
<line x1="107" y1="200.5" x2="773" y2="200.5" stroke="#000" stroke-width="1.2" opacity="0.3"/>
<line x1="107" y1="486.0" x2="773" y2="486.0" stroke="#000" stroke-width="1.2" opacity="0.3"/>
<path d="M106.7 57.1 H773.5 V285.5 H106.7 Z" fill="none" stroke="#3a3a3a" stroke-width="1.3" stroke-linejoin="miter"/>
<line x1="99.1" y1="65.30" x2="106.7" y2="65.30" stroke="#3a3a3a" stroke-width="1.3"/>
<line x1="99.1" y1="110.30" x2="106.7" y2="110.30" stroke="#3a3a3a" stroke-width="1.3"/>
<line x1="99.1" y1="155.30" x2="106.7" y2="155.30" stroke="#3a3a3a" stroke-width="1.3"/>
<line x1="99.1" y1="200.30" x2="106.7" y2="200.30" stroke="#3a3a3a" stroke-width="1.3"/>
<line x1="99.1" y1="245.30" x2="106.7" y2="245.30" stroke="#3a3a3a" stroke-width="1.3"/>
<line x1="113.03" y1="285.5" x2="113.03" y2="289.7" stroke="#aaa" stroke-width="1.2"/>
<line x1="128.50" y1="285.5" x2="128.50" y2="291.7" stroke="#222" stroke-width="1.2"/>
<line x1="143.97" y1="285.5" x2="143.97" y2="289.7" stroke="#aaa" stroke-width="1.2"/>
<line x1="159.45" y1="285.5" x2="159.45" y2="289.7" stroke="#aaa" stroke-width="1.2"/>
<line x1="174.93" y1="285.5" x2="174.93" y2="289.7" stroke="#aaa" stroke-width="1.2"/>
<line x1="190.40" y1="285.5" x2="190.40" y2="289.7" stroke="#aaa" stroke-width="1.2"/>
<line x1="205.88" y1="285.5" x2="205.88" y2="291.7" stroke="#222" stroke-width="1.2"/>
<line x1="221.35" y1="285.5" x2="221.35" y2="289.7" stroke="#aaa" stroke-width="1.2"/>
<line x1="236.82" y1="285.5" x2="236.82" y2="289.7" stroke="#aaa" stroke-width="1.2"/>
<line x1="252.30" y1="285.5" x2="252.30" y2="289.7" stroke="#aaa" stroke-width="1.2"/>
<line x1="267.77" y1="285.5" x2="267.77" y2="289.7" stroke="#aaa" stroke-width="1.2"/>
<line x1="283.25" y1="285.5" x2="283.25" y2="291.7" stroke="#222" stroke-width="1.2"/>
<line x1="298.73" y1="285.5" x2="298.73" y2="289.7" stroke="#aaa" stroke-width="1.2"/>
<line x1="314.20" y1="285.5" x2="314.20" y2="289.7" stroke="#aaa" stroke-width="1.2"/>
<line x1="329.67" y1="285.5" x2="329.67" y2="289.7" stroke="#aaa" stroke-width="1.2"/>
<line x1="345.15" y1="285.5" x2="345.15" y2="289.7" stroke="#aaa" stroke-width="1.2"/>
<line x1="360.62" y1="285.5" x2="360.62" y2="291.7" stroke="#222" stroke-width="1.2"/>
<line x1="376.10" y1="285.5" x2="376.10" y2="289.7" stroke="#aaa" stroke-width="1.2"/>
<line x1="391.57" y1="285.5" x2="391.57" y2="289.7" stroke="#aaa" stroke-width="1.2"/>
<line x1="407.05" y1="285.5" x2="407.05" y2="289.7" stroke="#aaa" stroke-width="1.2"/>
<line x1="422.52" y1="285.5" x2="422.52" y2="289.7" stroke="#aaa" stroke-width="1.2"/>
<line x1="438.00" y1="285.5" x2="438.00" y2="291.7" stroke="#222" stroke-width="1.2"/>
<line x1="453.47" y1="285.5" x2="453.47" y2="289.7" stroke="#aaa" stroke-width="1.2"/>
<line x1="468.95" y1="285.5" x2="468.95" y2="289.7" stroke="#aaa" stroke-width="1.2"/>
<line x1="484.43" y1="285.5" x2="484.43" y2="289.7" stroke="#aaa" stroke-width="1.2"/>
<line x1="499.90" y1="285.5" x2="499.90" y2="289.7" stroke="#aaa" stroke-width="1.2"/>
<line x1="515.38" y1="285.5" x2="515.38" y2="291.7" stroke="#222" stroke-width="1.2"/>
<line x1="530.85" y1="285.5" x2="530.85" y2="289.7" stroke="#aaa" stroke-width="1.2"/>
<line x1="546.33" y1="285.5" x2="546.33" y2="289.7" stroke="#aaa" stroke-width="1.2"/>
<line x1="561.80" y1="285.5" x2="561.80" y2="289.7" stroke="#aaa" stroke-width="1.2"/>
<line x1="577.27" y1="285.5" x2="577.27" y2="289.7" stroke="#aaa" stroke-width="1.2"/>
<line x1="592.75" y1="285.5" x2="592.75" y2="291.7" stroke="#222" stroke-width="1.2"/>
<line x1="608.22" y1="285.5" x2="608.22" y2="289.7" stroke="#aaa" stroke-width="1.2"/>
<line x1="623.70" y1="285.5" x2="623.70" y2="289.7" stroke="#aaa" stroke-width="1.2"/>
<line x1="639.17" y1="285.5" x2="639.17" y2="289.7" stroke="#aaa" stroke-width="1.2"/>
<line x1="654.65" y1="285.5" x2="654.65" y2="289.7" stroke="#aaa" stroke-width="1.2"/>
<line x1="670.12" y1="285.5" x2="670.12" y2="291.7" stroke="#222" stroke-width="1.2"/>
<line x1="685.60" y1="285.5" x2="685.60" y2="289.7" stroke="#aaa" stroke-width="1.2"/>
<line x1="701.07" y1="285.5" x2="701.07" y2="289.7" stroke="#aaa" stroke-width="1.2"/>
<line x1="716.55" y1="285.5" x2="716.55" y2="289.7" stroke="#aaa" stroke-width="1.2"/>
<line x1="732.02" y1="285.5" x2="732.02" y2="289.7" stroke="#aaa" stroke-width="1.2"/>
<line x1="747.50" y1="285.5" x2="747.50" y2="291.7" stroke="#222" stroke-width="1.2"/>
<line x1="762.98" y1="285.5" x2="762.98" y2="289.7" stroke="#aaa" stroke-width="1.2"/>
<path d="M106.7 381.0 H773.5 V609.5 H106.7 Z" fill="none" stroke="#3a3a3a" stroke-width="1.3" stroke-linejoin="miter"/>
<line x1="99.1" y1="402.60" x2="106.7" y2="402.60" stroke="#3a3a3a" stroke-width="1.3"/>
<line x1="99.1" y1="444.30" x2="106.7" y2="444.30" stroke="#3a3a3a" stroke-width="1.3"/>
<line x1="99.1" y1="486.00" x2="106.7" y2="486.00" stroke="#3a3a3a" stroke-width="1.3"/>
<line x1="99.1" y1="527.70" x2="106.7" y2="527.70" stroke="#3a3a3a" stroke-width="1.3"/>
<line x1="99.1" y1="569.40" x2="106.7" y2="569.40" stroke="#3a3a3a" stroke-width="1.3"/>
<line x1="113.03" y1="609.5" x2="113.03" y2="613.7" stroke="#aaa" stroke-width="1.2"/>
<line x1="128.50" y1="609.5" x2="128.50" y2="615.7" stroke="#222" stroke-width="1.2"/>
<line x1="143.97" y1="609.5" x2="143.97" y2="613.7" stroke="#aaa" stroke-width="1.2"/>
<line x1="159.45" y1="609.5" x2="159.45" y2="613.7" stroke="#aaa" stroke-width="1.2"/>
<line x1="174.93" y1="609.5" x2="174.93" y2="613.7" stroke="#aaa" stroke-width="1.2"/>
<line x1="190.40" y1="609.5" x2="190.40" y2="613.7" stroke="#aaa" stroke-width="1.2"/>
<line x1="205.88" y1="609.5" x2="205.88" y2="615.7" stroke="#222" stroke-width="1.2"/>
<line x1="221.35" y1="609.5" x2="221.35" y2="613.7" stroke="#aaa" stroke-width="1.2"/>
<line x1="236.82" y1="609.5" x2="236.82" y2="613.7" stroke="#aaa" stroke-width="1.2"/>
<line x1="252.30" y1="609.5" x2="252.30" y2="613.7" stroke="#aaa" stroke-width="1.2"/>
<line x1="267.77" y1="609.5" x2="267.77" y2="613.7" stroke="#aaa" stroke-width="1.2"/>
<line x1="283.25" y1="609.5" x2="283.25" y2="615.7" stroke="#222" stroke-width="1.2"/>
<line x1="298.73" y1="609.5" x2="298.73" y2="613.7" stroke="#aaa" stroke-width="1.2"/>
<line x1="314.20" y1="609.5" x2="314.20" y2="613.7" stroke="#aaa" stroke-width="1.2"/>
<line x1="329.67" y1="609.5" x2="329.67" y2="613.7" stroke="#aaa" stroke-width="1.2"/>
<line x1="345.15" y1="609.5" x2="345.15" y2="613.7" stroke="#aaa" stroke-width="1.2"/>
<line x1="360.62" y1="609.5" x2="360.62" y2="615.7" stroke="#222" stroke-width="1.2"/>
<line x1="376.10" y1="609.5" x2="376.10" y2="613.7" stroke="#aaa" stroke-width="1.2"/>
<line x1="391.57" y1="609.5" x2="391.57" y2="613.7" stroke="#aaa" stroke-width="1.2"/>
<line x1="407.05" y1="609.5" x2="407.05" y2="613.7" stroke="#aaa" stroke-width="1.2"/>
<line x1="422.52" y1="609.5" x2="422.52" y2="613.7" stroke="#aaa" stroke-width="1.2"/>
<line x1="438.00" y1="609.5" x2="438.00" y2="615.7" stroke="#222" stroke-width="1.2"/>
<line x1="453.47" y1="609.5" x2="453.47" y2="613.7" stroke="#aaa" stroke-width="1.2"/>
<line x1="468.95" y1="609.5" x2="468.95" y2="613.7" stroke="#aaa" stroke-width="1.2"/>
<line x1="484.43" y1="609.5" x2="484.43" y2="613.7" stroke="#aaa" stroke-width="1.2"/>
<line x1="499.90" y1="609.5" x2="499.90" y2="613.7" stroke="#aaa" stroke-width="1.2"/>
<line x1="515.38" y1="609.5" x2="515.38" y2="615.7" stroke="#222" stroke-width="1.2"/>
<line x1="530.85" y1="609.5" x2="530.85" y2="613.7" stroke="#aaa" stroke-width="1.2"/>
<line x1="546.33" y1="609.5" x2="546.33" y2="613.7" stroke="#aaa" stroke-width="1.2"/>
<line x1="561.80" y1="609.5" x2="561.80" y2="613.7" stroke="#aaa" stroke-width="1.2"/>
<line x1="577.27" y1="609.5" x2="577.27" y2="613.7" stroke="#aaa" stroke-width="1.2"/>
<line x1="592.75" y1="609.5" x2="592.75" y2="615.7" stroke="#222" stroke-width="1.2"/>
<line x1="608.22" y1="609.5" x2="608.22" y2="613.7" stroke="#aaa" stroke-width="1.2"/>
<line x1="623.70" y1="609.5" x2="623.70" y2="613.7" stroke="#aaa" stroke-width="1.2"/>
<line x1="639.17" y1="609.5" x2="639.17" y2="613.7" stroke="#aaa" stroke-width="1.2"/>
<line x1="654.65" y1="609.5" x2="654.65" y2="613.7" stroke="#aaa" stroke-width="1.2"/>
<line x1="670.12" y1="609.5" x2="670.12" y2="615.7" stroke="#222" stroke-width="1.2"/>
<line x1="685.60" y1="609.5" x2="685.60" y2="613.7" stroke="#aaa" stroke-width="1.2"/>
<line x1="701.07" y1="609.5" x2="701.07" y2="613.7" stroke="#aaa" stroke-width="1.2"/>
<line x1="716.55" y1="609.5" x2="716.55" y2="613.7" stroke="#aaa" stroke-width="1.2"/>
<line x1="732.02" y1="609.5" x2="732.02" y2="613.7" stroke="#aaa" stroke-width="1.2"/>
<line x1="747.50" y1="609.5" x2="747.50" y2="615.7" stroke="#222" stroke-width="1.2"/>
<line x1="762.98" y1="609.5" x2="762.98" y2="613.7" stroke="#aaa" stroke-width="1.2"/>
<path d="M765.5 206.3 L772.8 221.5 L767.5 221.5 L767.5 245.5 L763.5 245.5 L763.5 221.5 L758.2 221.5 Z" fill="none" stroke="#ff0000" stroke-width="1.15" stroke-linejoin="miter"/>
<path d="M766.5 504.2 L773.8 519.5 L768.5 519.5 L768.5 547.5 L764.5 547.5 L764.5 519.5 L759.2 519.5 Z" fill="none" stroke="#0000ff" stroke-width="1.15" stroke-linejoin="miter"/>
</svg>
<div class="yl" style="top:56.3px">0.9</div>
<div class="yl" style="top:101.3px">0.6</div>
<div class="yl" style="top:146.3px">0.3</div>
<div class="yl" style="top:191.3px">0</div>
<div class="yl" style="top:236.3px">-0.3</div>
<div class="yl" style="top:393.6px">4</div>
<div class="yl" style="top:435.3px">2</div>
<div class="yl" style="top:477.0px">0</div>
<div class="yl" style="top:518.7px">-2</div>
<div class="yl" style="top:560.4px">-4</div>
<div class="xl" style="left:98.9px;top:298.9px">1980</div>
<div class="xl" style="left:176.3px;top:298.9px">1985</div>
<div class="xl" style="left:253.7px;top:298.9px">1990</div>
<div class="xl" style="left:331.0px;top:298.9px">1995</div>
<div class="xl" style="left:408.4px;top:298.9px">2000</div>
<div class="xl" style="left:485.8px;top:298.9px">2005</div>
<div class="xl" style="left:563.1px;top:298.9px">2010</div>
<div class="xl" style="left:640.5px;top:298.9px">2015</div>
<div class="xl" style="left:717.9px;top:298.9px">2020</div>
<div class="xl" style="left:98.9px;top:623px">1980</div>
<div class="xl" style="left:176.3px;top:623px">1985</div>
<div class="xl" style="left:253.7px;top:623px">1990</div>
<div class="xl" style="left:331.0px;top:623px">1995</div>
<div class="xl" style="left:408.4px;top:623px">2000</div>
<div class="xl" style="left:485.8px;top:623px">2005</div>
<div class="xl" style="left:563.1px;top:623px">2010</div>
<div class="xl" style="left:640.5px;top:623px">2015</div>
<div class="xl" style="left:717.9px;top:623px">2020</div>
<div class="unit" style="left:19.2px;top:154.8px">°&nbsp;C</div>
<div class="unit" style="left:35.5px;top:478.8px">°&nbsp;C</div>
<div class="foot">(Data: ERA5.  Reference period: 1981-2010.  Credit: C3S/ECMWF)</div>
<div class="date">Date created: 2021-05-03</div>
<svg width="800" height="724" viewBox="0 0 800 724" style="position:absolute;left:0;top:0" font-family="Liberation Sans, sans-serif">
<defs>
<linearGradient id="cg" x1="0" y1="0" x2="0" y2="1"><stop offset="0" stop-color="#74b6e4"/><stop offset="0.45" stop-color="#2f74bd"/><stop offset="1" stop-color="#24509f"/></linearGradient>
</defs>
<line x1="21" y1="676.0" x2="28" y2="676.0" stroke="#c4c4c4" stroke-width="1.1"/>
<line x1="14" y1="678.5" x2="28" y2="678.5" stroke="#c4c4c4" stroke-width="1.1"/>
<line x1="14" y1="681.0" x2="28" y2="681.0" stroke="#c4c4c4" stroke-width="1.1"/>
<line x1="14" y1="683.5" x2="28" y2="683.5" stroke="#c4c4c4" stroke-width="1.1"/>
<line x1="14" y1="686.0" x2="28" y2="686.0" stroke="#c4c4c4" stroke-width="1.1"/>
<line x1="14" y1="688.5" x2="28" y2="688.5" stroke="#c4c4c4" stroke-width="1.1"/>
<line x1="14" y1="691.0" x2="28" y2="691.0" stroke="#c4c4c4" stroke-width="1.1"/>
<line x1="14" y1="693.5" x2="28" y2="693.5" stroke="#c4c4c4" stroke-width="1.1"/>
<line x1="14" y1="696.0" x2="28" y2="696.0" stroke="#c4c4c4" stroke-width="1.1"/>
<line x1="14" y1="698.8" x2="28" y2="698.8" stroke="#c4c4c4" stroke-width="1.1"/>
<path d="M21 675.8 L33 675.2 Q41 672.3 46.5 667.2" fill="none" stroke="#c4c4c4" stroke-width="0.8"/>
<path d="M21 676.7 L33 676.1 Q41 672.9 46.5 668.9" fill="none" stroke="#c4c4c4" stroke-width="0.8"/>
<path d="M21 677.6 L33 677.0 Q41 673.5 46.5 670.6" fill="none" stroke="#c4c4c4" stroke-width="0.8"/>
<path d="M21 678.5 L33 677.9 Q41 674.1 46.5 672.3" fill="none" stroke="#c4c4c4" stroke-width="0.8"/>
<path d="M21 679.4 L33 678.8 Q41 674.7 46.5 674.0" fill="none" stroke="#c4c4c4" stroke-width="0.8"/>
<line x1="61.2" y1="666.3" x2="61.2" y2="699.5" stroke="#c4c4c4" stroke-width="0.9"/>
<path d="M61.2 668.0 Q68 681.8 81 682.5" fill="none" stroke="#c4c4c4" stroke-width="0.8"/>
<path d="M61.2 671.0 Q68 683.7 81 684.4" fill="none" stroke="#c4c4c4" stroke-width="0.8"/>
<path d="M61.2 674.0 Q68 685.6 81 686.2" fill="none" stroke="#c4c4c4" stroke-width="0.8"/>
<path d="M61.2 677.0 Q68 687.5 81 688.0" fill="none" stroke="#c4c4c4" stroke-width="0.8"/>
<path d="M61.2 680.0 Q68 689.4 81 689.9" fill="none" stroke="#c4c4c4" stroke-width="0.8"/>
<path d="M61.2 683.0 Q68 691.3 81 691.8" fill="none" stroke="#c4c4c4" stroke-width="0.8"/>
<path d="M61.2 686.0 Q68 693.2 81 693.6" fill="none" stroke="#c4c4c4" stroke-width="0.8"/>
<path d="M61.2 689.0 Q68 695.1 81 695.5" fill="none" stroke="#c4c4c4" stroke-width="0.8"/>
<path d="M61.2 692.0 Q68 697.0 81 697.3" fill="none" stroke="#c4c4c4" stroke-width="0.8"/>
<path d="M61.2 695.0 Q68 698.9 81 699.1" fill="none" stroke="#c4c4c4" stroke-width="0.8"/>
<line x1="61.2" y1="699.3" x2="81" y2="699.3" stroke="#c4c4c4" stroke-width="1"/>
<rect x="28" y="679" width="28.8" height="20.5" fill="#114fa6"/>
<circle cx="42.30" cy="682.40" r="0.85" fill="#ffe014"/>
<circle cx="45.70" cy="683.31" r="0.85" fill="#ffe014"/>
<circle cx="48.19" cy="685.80" r="0.85" fill="#ffe014"/>
<circle cx="49.10" cy="689.20" r="0.85" fill="#ffe014"/>
<circle cx="48.19" cy="692.60" r="0.85" fill="#ffe014"/>
<circle cx="45.70" cy="695.09" r="0.85" fill="#ffe014"/>
<circle cx="42.30" cy="696.00" r="0.85" fill="#ffe014"/>
<circle cx="38.90" cy="695.09" r="0.85" fill="#ffe014"/>
<circle cx="36.41" cy="692.60" r="0.85" fill="#ffe014"/>
<circle cx="35.50" cy="689.20" r="0.85" fill="#ffe014"/>
<circle cx="36.41" cy="685.80" r="0.85" fill="#ffe014"/>
<circle cx="38.90" cy="683.31" r="0.85" fill="#ffe014"/>
<text x="30" y="704.9" font-size="3.5" fill="#555" font-weight="bold" textLength="15.5" lengthAdjust="spacingAndGlyphs">European</text>
<text x="30" y="710.1" font-size="3.5" fill="#555" font-weight="bold" textLength="21" lengthAdjust="spacingAndGlyphs">Commission</text>
<rect x="28" y="712" width="28.8" height="2" fill="#114fa6"/>
<clipPath id="cclip"><polygon points="233.9,683.6 240.8,723.0 193.9,723.6 193.9,643.6 241.9,643.6 266.3,660.1"/></clipPath>
<path clip-path="url(#cclip)" fill="url(#cg)" fill-rule="evenodd" d="M218.5 683.6 a15.4 15.4 0 1 0 30.8 0 a15.4 15.4 0 1 0 -30.8 0 Z M222.8 683.4 a13.0 13.0 0 1 0 26.0 0 a13.0 13.0 0 1 0 -26.0 0 Z"/>
<text x="231.6 241.0 250.2 260.4 269.6 278.3 281.2 290.2 298.6" y="693.2" font-size="17.6" fill="#1f2f74">opernicus</text>
<circle cx="272.9" cy="687.4" r="1.9" fill="#fbbb0c"/>
<text x="255.1" y="699.5" font-size="4.6" fill="#5580c4" textLength="50" lengthAdjust="spacingAndGlyphs">Europe's eyes on Earth</text>
<text x="456.8" y="673.9" font-size="4.1" font-weight="bold" fill="#1775bc" textLength="42" lengthAdjust="spacingAndGlyphs">IMPLEMENTED BY</text>
<path d="M466.5 678.8 H475.5 C481.5 678.8 485 683 485 688.5 C485 694 481.5 698.3 475.5 698.3 H466.5 C460.5 698.3 456.8 694 456.8 688.5 C456.8 683 460.5 678.8 466.5 678.8 Z" fill="#1775bc"/>
<circle cx="466.9" cy="688.5" r="2.8" fill="#fff"/>
<circle cx="474.9" cy="688.5" r="2.8" fill="#fff"/>
<rect x="467" y="687.3" width="7.8" height="2.4" fill="#fff"/>
<rect x="456.5" y="687.7" width="9" height="1.6" fill="#fff"/>
<path d="M468.9 678.3 H472.9 L470.9 683.6 Z" fill="#fff"/>
<path d="M468.9 698.8 H472.9 L470.9 693.4 Z" fill="#fff"/>
<text x="487.1" y="697.3" font-size="24" font-weight="bold" fill="#1775bc" textLength="85.8" lengthAdjust="spacingAndGlyphs">ECMWF</text>
<clipPath id="kclip"><polygon points="719.7,683.5 728.0,722.6 679.7,723.5 679.7,643.5 727.7,643.5 750.3,657.8"/></clipPath>
<path clip-path="url(#kclip)" fill="#8d1437" fill-rule="evenodd" d="M703.8000000000001 683.5 a15.9 15.9 0 1 0 31.8 0 a15.9 15.9 0 1 0 -31.8 0 Z M707.1 683.7 a13.7 13.7 0 1 0 27.4 0 a13.7 13.7 0 1 0 -27.4 0 Z"/>
<path d="M710.6 683.2 C711.3 680.2 713.6 678.3 716.5 678.2 C717.6 676 720 674.8 722.6 674.9 C725.6 675 728 676.7 728.8 679.3 C729.8 680.3 730.4 681.6 730.4 683" fill="none" stroke="#a8264a" stroke-width="0.8"/>
<path d="M722.7 679.6 a1.2 1.2 0 0 1 2.4 0 V687.4 a2 2 0 1 1 -2.4 0 Z" fill="#fff" stroke="#a01c40" stroke-width="0.8"/>
<line x1="723.9" y1="681.5" x2="723.9" y2="688.6" stroke="#a01c40" stroke-width="0.9"/>
<circle cx="723.9" cy="689" r="1" fill="#a01c40"/>
<text x="736" y="681.8" font-size="5.4" fill="#c2405c" textLength="19.2" lengthAdjust="spacingAndGlyphs">Climate</text>
<text x="736" y="688.3" font-size="5.4" fill="#c2405c" textLength="40.5" lengthAdjust="spacingAndGlyphs">Change Service</text>
<text x="736" y="699.6" font-size="4.8" fill="#777" textLength="47.8" lengthAdjust="spacingAndGlyphs">climate.copernicus.eu</text>
</svg>
</body></html>
